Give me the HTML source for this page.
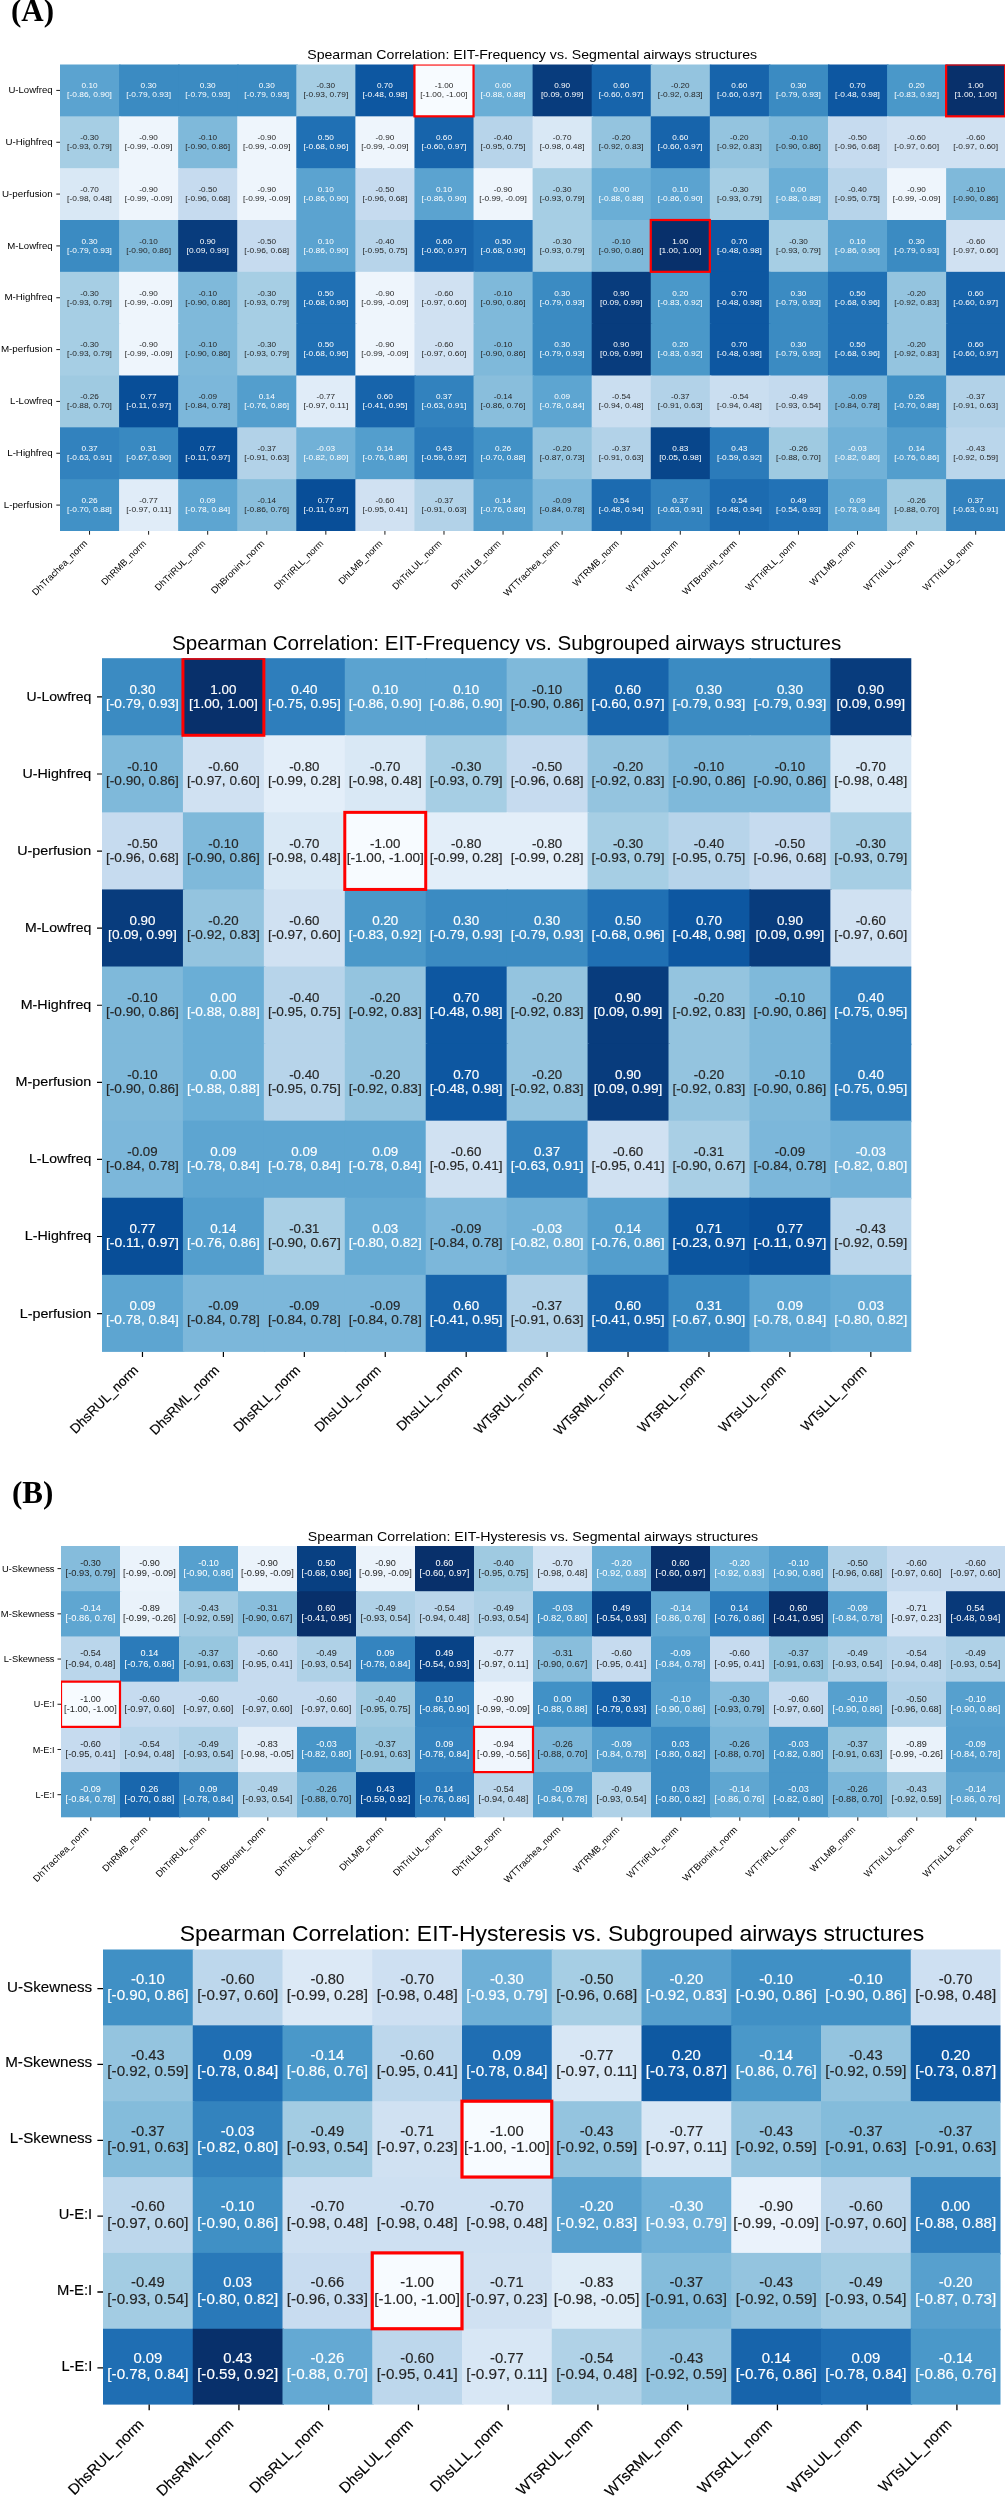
<!DOCTYPE html>
<html><head><meta charset="utf-8"><title>Spearman Correlation heatmaps</title><style>
html,body{margin:0;padding:0;background:#fff;}
svg{display:block;will-change:transform;}
text{font-family:"Liberation Sans",sans-serif;}
.w{fill:#fff;stroke:#fff}.d{fill:#262626;stroke:#262626}.k{fill:#000;stroke:#000}
.s{font-family:"Liberation Serif",serif;font-weight:bold}
</style></head><body>
<svg width="1005" height="2500" viewBox="0 0 1005 2500" stroke-width="0">
<rect width="1005" height="2500" fill="#fff"/>
<text class="s k" x="11.0" y="21.1" font-size="31">(A)</text>
<text class="s k" x="12.0" y="1502.8" font-size="31">(B)</text>
<g>
<rect x="60" y="64.5" width="60.58" height="53.33" fill="#5ba3d0"/>
<rect x="119.08" y="64.5" width="60.58" height="53.33" fill="#3b8bc2"/>
<rect x="178.15" y="64.5" width="60.58" height="53.33" fill="#3b8bc2"/>
<rect x="237.23" y="64.5" width="60.58" height="53.33" fill="#3b8bc2"/>
<rect x="296.3" y="64.5" width="60.58" height="53.33" fill="#a6cee4"/>
<rect x="355.38" y="64.5" width="60.58" height="53.33" fill="#0d57a1"/>
<rect x="414.45" y="64.5" width="60.58" height="53.33" fill="#f7fbff"/>
<rect x="473.53" y="64.5" width="60.58" height="53.33" fill="#6aaed6"/>
<rect x="532.6" y="64.5" width="60.58" height="53.33" fill="#083c7d"/>
<rect x="591.68" y="64.5" width="60.58" height="53.33" fill="#1764ab"/>
<rect x="650.75" y="64.5" width="60.58" height="53.33" fill="#94c4df"/>
<rect x="709.83" y="64.5" width="60.58" height="53.33" fill="#1764ab"/>
<rect x="768.9" y="64.5" width="60.58" height="53.33" fill="#3b8bc2"/>
<rect x="827.98" y="64.5" width="60.58" height="53.33" fill="#0d57a1"/>
<rect x="887.05" y="64.5" width="60.58" height="53.33" fill="#4a98c9"/>
<rect x="946.12" y="64.5" width="59.08" height="53.33" fill="#08306b"/>
<rect x="60" y="116.33" width="60.58" height="53.33" fill="#a6cee4"/>
<rect x="119.08" y="116.33" width="60.58" height="53.33" fill="#eef5fc"/>
<rect x="178.15" y="116.33" width="60.58" height="53.33" fill="#7fb9da"/>
<rect x="237.23" y="116.33" width="60.58" height="53.33" fill="#eef5fc"/>
<rect x="296.3" y="116.33" width="60.58" height="53.33" fill="#2070b4"/>
<rect x="355.38" y="116.33" width="60.58" height="53.33" fill="#eef5fc"/>
<rect x="414.45" y="116.33" width="60.58" height="53.33" fill="#1764ab"/>
<rect x="473.53" y="116.33" width="60.58" height="53.33" fill="#b7d4ea"/>
<rect x="532.6" y="116.33" width="60.58" height="53.33" fill="#d9e8f5"/>
<rect x="591.68" y="116.33" width="60.58" height="53.33" fill="#94c4df"/>
<rect x="650.75" y="116.33" width="60.58" height="53.33" fill="#1764ab"/>
<rect x="709.83" y="116.33" width="60.58" height="53.33" fill="#94c4df"/>
<rect x="768.9" y="116.33" width="60.58" height="53.33" fill="#7fb9da"/>
<rect x="827.98" y="116.33" width="60.58" height="53.33" fill="#c6dbef"/>
<rect x="887.05" y="116.33" width="60.58" height="53.33" fill="#d0e1f2"/>
<rect x="946.12" y="116.33" width="59.08" height="53.33" fill="#d0e1f2"/>
<rect x="60" y="168.17" width="60.58" height="53.33" fill="#d9e8f5"/>
<rect x="119.08" y="168.17" width="60.58" height="53.33" fill="#eef5fc"/>
<rect x="178.15" y="168.17" width="60.58" height="53.33" fill="#c6dbef"/>
<rect x="237.23" y="168.17" width="60.58" height="53.33" fill="#eef5fc"/>
<rect x="296.3" y="168.17" width="60.58" height="53.33" fill="#5ba3d0"/>
<rect x="355.38" y="168.17" width="60.58" height="53.33" fill="#c6dbef"/>
<rect x="414.45" y="168.17" width="60.58" height="53.33" fill="#5ba3d0"/>
<rect x="473.53" y="168.17" width="60.58" height="53.33" fill="#eef5fc"/>
<rect x="532.6" y="168.17" width="60.58" height="53.33" fill="#a6cee4"/>
<rect x="591.68" y="168.17" width="60.58" height="53.33" fill="#6aaed6"/>
<rect x="650.75" y="168.17" width="60.58" height="53.33" fill="#5ba3d0"/>
<rect x="709.83" y="168.17" width="60.58" height="53.33" fill="#a6cee4"/>
<rect x="768.9" y="168.17" width="60.58" height="53.33" fill="#6aaed6"/>
<rect x="827.98" y="168.17" width="60.58" height="53.33" fill="#b7d4ea"/>
<rect x="887.05" y="168.17" width="60.58" height="53.33" fill="#eef5fc"/>
<rect x="946.12" y="168.17" width="59.08" height="53.33" fill="#7fb9da"/>
<rect x="60" y="220" width="60.58" height="53.33" fill="#3b8bc2"/>
<rect x="119.08" y="220" width="60.58" height="53.33" fill="#7fb9da"/>
<rect x="178.15" y="220" width="60.58" height="53.33" fill="#083c7d"/>
<rect x="237.23" y="220" width="60.58" height="53.33" fill="#c6dbef"/>
<rect x="296.3" y="220" width="60.58" height="53.33" fill="#5ba3d0"/>
<rect x="355.38" y="220" width="60.58" height="53.33" fill="#b7d4ea"/>
<rect x="414.45" y="220" width="60.58" height="53.33" fill="#1764ab"/>
<rect x="473.53" y="220" width="60.58" height="53.33" fill="#2070b4"/>
<rect x="532.6" y="220" width="60.58" height="53.33" fill="#a6cee4"/>
<rect x="591.68" y="220" width="60.58" height="53.33" fill="#7fb9da"/>
<rect x="650.75" y="220" width="60.58" height="53.33" fill="#08306b"/>
<rect x="709.83" y="220" width="60.58" height="53.33" fill="#0d57a1"/>
<rect x="768.9" y="220" width="60.58" height="53.33" fill="#a6cee4"/>
<rect x="827.98" y="220" width="60.58" height="53.33" fill="#5ba3d0"/>
<rect x="887.05" y="220" width="60.58" height="53.33" fill="#3b8bc2"/>
<rect x="946.12" y="220" width="59.08" height="53.33" fill="#d0e1f2"/>
<rect x="60" y="271.83" width="60.58" height="53.33" fill="#a6cee4"/>
<rect x="119.08" y="271.83" width="60.58" height="53.33" fill="#eef5fc"/>
<rect x="178.15" y="271.83" width="60.58" height="53.33" fill="#7fb9da"/>
<rect x="237.23" y="271.83" width="60.58" height="53.33" fill="#a6cee4"/>
<rect x="296.3" y="271.83" width="60.58" height="53.33" fill="#2070b4"/>
<rect x="355.38" y="271.83" width="60.58" height="53.33" fill="#eef5fc"/>
<rect x="414.45" y="271.83" width="60.58" height="53.33" fill="#d0e1f2"/>
<rect x="473.53" y="271.83" width="60.58" height="53.33" fill="#7fb9da"/>
<rect x="532.6" y="271.83" width="60.58" height="53.33" fill="#3b8bc2"/>
<rect x="591.68" y="271.83" width="60.58" height="53.33" fill="#083c7d"/>
<rect x="650.75" y="271.83" width="60.58" height="53.33" fill="#4a98c9"/>
<rect x="709.83" y="271.83" width="60.58" height="53.33" fill="#0d57a1"/>
<rect x="768.9" y="271.83" width="60.58" height="53.33" fill="#3b8bc2"/>
<rect x="827.98" y="271.83" width="60.58" height="53.33" fill="#2070b4"/>
<rect x="887.05" y="271.83" width="60.58" height="53.33" fill="#94c4df"/>
<rect x="946.12" y="271.83" width="59.08" height="53.33" fill="#1764ab"/>
<rect x="60" y="323.67" width="60.58" height="53.33" fill="#a6cee4"/>
<rect x="119.08" y="323.67" width="60.58" height="53.33" fill="#eef5fc"/>
<rect x="178.15" y="323.67" width="60.58" height="53.33" fill="#7fb9da"/>
<rect x="237.23" y="323.67" width="60.58" height="53.33" fill="#a6cee4"/>
<rect x="296.3" y="323.67" width="60.58" height="53.33" fill="#2070b4"/>
<rect x="355.38" y="323.67" width="60.58" height="53.33" fill="#eef5fc"/>
<rect x="414.45" y="323.67" width="60.58" height="53.33" fill="#d0e1f2"/>
<rect x="473.53" y="323.67" width="60.58" height="53.33" fill="#7fb9da"/>
<rect x="532.6" y="323.67" width="60.58" height="53.33" fill="#3b8bc2"/>
<rect x="591.68" y="323.67" width="60.58" height="53.33" fill="#083c7d"/>
<rect x="650.75" y="323.67" width="60.58" height="53.33" fill="#4a98c9"/>
<rect x="709.83" y="323.67" width="60.58" height="53.33" fill="#0d57a1"/>
<rect x="768.9" y="323.67" width="60.58" height="53.33" fill="#3b8bc2"/>
<rect x="827.98" y="323.67" width="60.58" height="53.33" fill="#2070b4"/>
<rect x="887.05" y="323.67" width="60.58" height="53.33" fill="#94c4df"/>
<rect x="946.12" y="323.67" width="59.08" height="53.33" fill="#1764ab"/>
<rect x="60" y="375.5" width="60.58" height="53.33" fill="#9fcae1"/>
<rect x="119.08" y="375.5" width="60.58" height="53.33" fill="#084e98"/>
<rect x="178.15" y="375.5" width="60.58" height="53.33" fill="#7cb7da"/>
<rect x="237.23" y="375.5" width="60.58" height="53.33" fill="#539ecd"/>
<rect x="296.3" y="375.5" width="60.58" height="53.33" fill="#e0ecf8"/>
<rect x="355.38" y="375.5" width="60.58" height="53.33" fill="#1764ab"/>
<rect x="414.45" y="375.5" width="60.58" height="53.33" fill="#3282be"/>
<rect x="473.53" y="375.5" width="60.58" height="53.33" fill="#89bedc"/>
<rect x="532.6" y="375.5" width="60.58" height="53.33" fill="#5da5d1"/>
<rect x="591.68" y="375.5" width="60.58" height="53.33" fill="#cadef0"/>
<rect x="650.75" y="375.5" width="60.58" height="53.33" fill="#b2d2e8"/>
<rect x="709.83" y="375.5" width="60.58" height="53.33" fill="#cadef0"/>
<rect x="768.9" y="375.5" width="60.58" height="53.33" fill="#c4daee"/>
<rect x="827.98" y="375.5" width="60.58" height="53.33" fill="#7cb7da"/>
<rect x="887.05" y="375.5" width="60.58" height="53.33" fill="#4191c6"/>
<rect x="946.12" y="375.5" width="59.08" height="53.33" fill="#b2d2e8"/>
<rect x="60" y="427.33" width="60.58" height="53.33" fill="#3282be"/>
<rect x="119.08" y="427.33" width="60.58" height="53.33" fill="#3989c1"/>
<rect x="178.15" y="427.33" width="60.58" height="53.33" fill="#084e98"/>
<rect x="237.23" y="427.33" width="60.58" height="53.33" fill="#b2d2e8"/>
<rect x="296.3" y="427.33" width="60.58" height="53.33" fill="#71b1d7"/>
<rect x="355.38" y="427.33" width="60.58" height="53.33" fill="#539ecd"/>
<rect x="414.45" y="427.33" width="60.58" height="53.33" fill="#2b7bba"/>
<rect x="473.53" y="427.33" width="60.58" height="53.33" fill="#4191c6"/>
<rect x="532.6" y="427.33" width="60.58" height="53.33" fill="#94c4df"/>
<rect x="591.68" y="427.33" width="60.58" height="53.33" fill="#b2d2e8"/>
<rect x="650.75" y="427.33" width="60.58" height="53.33" fill="#08468b"/>
<rect x="709.83" y="427.33" width="60.58" height="53.33" fill="#2b7bba"/>
<rect x="768.9" y="427.33" width="60.58" height="53.33" fill="#9fcae1"/>
<rect x="827.98" y="427.33" width="60.58" height="53.33" fill="#71b1d7"/>
<rect x="887.05" y="427.33" width="60.58" height="53.33" fill="#539ecd"/>
<rect x="946.12" y="427.33" width="59.08" height="53.33" fill="#bad6eb"/>
<rect x="60" y="479.17" width="60.58" height="51.83" fill="#4191c6"/>
<rect x="119.08" y="479.17" width="60.58" height="51.83" fill="#e0ecf8"/>
<rect x="178.15" y="479.17" width="60.58" height="51.83" fill="#5da5d1"/>
<rect x="237.23" y="479.17" width="60.58" height="51.83" fill="#89bedc"/>
<rect x="296.3" y="479.17" width="60.58" height="51.83" fill="#084e98"/>
<rect x="355.38" y="479.17" width="60.58" height="51.83" fill="#d0e1f2"/>
<rect x="414.45" y="479.17" width="60.58" height="51.83" fill="#b2d2e8"/>
<rect x="473.53" y="479.17" width="60.58" height="51.83" fill="#539ecd"/>
<rect x="532.6" y="479.17" width="60.58" height="51.83" fill="#7cb7da"/>
<rect x="591.68" y="479.17" width="60.58" height="51.83" fill="#1c6bb0"/>
<rect x="650.75" y="479.17" width="60.58" height="51.83" fill="#3282be"/>
<rect x="709.83" y="479.17" width="60.58" height="51.83" fill="#1c6bb0"/>
<rect x="768.9" y="479.17" width="60.58" height="51.83" fill="#2272b6"/>
<rect x="827.98" y="479.17" width="60.58" height="51.83" fill="#5da5d1"/>
<rect x="887.05" y="479.17" width="60.58" height="51.83" fill="#9fcae1"/>
<rect x="946.12" y="479.17" width="59.08" height="51.83" fill="#3282be"/>
</g>
<g font-size="7.63" text-anchor="middle" stroke-width="0">
<text class="w" x="89.54" y="88.22" textLength="16.03" lengthAdjust="spacingAndGlyphs">0.10</text><text class="w" x="89.54" y="97.22" textLength="44.86" lengthAdjust="spacingAndGlyphs">[-0.86, 0.90]</text>
<text class="w" x="148.61" y="88.22" textLength="16.03" lengthAdjust="spacingAndGlyphs">0.30</text><text class="w" x="148.61" y="97.22" textLength="44.86" lengthAdjust="spacingAndGlyphs">[-0.79, 0.93]</text>
<text class="w" x="207.69" y="88.22" textLength="16.03" lengthAdjust="spacingAndGlyphs">0.30</text><text class="w" x="207.69" y="97.22" textLength="44.86" lengthAdjust="spacingAndGlyphs">[-0.79, 0.93]</text>
<text class="w" x="266.76" y="88.22" textLength="16.03" lengthAdjust="spacingAndGlyphs">0.30</text><text class="w" x="266.76" y="97.22" textLength="44.86" lengthAdjust="spacingAndGlyphs">[-0.79, 0.93]</text>
<text class="d" x="325.84" y="88.22" textLength="18.63" lengthAdjust="spacingAndGlyphs">-0.30</text><text class="d" x="325.84" y="97.22" textLength="44.86" lengthAdjust="spacingAndGlyphs">[-0.93, 0.79]</text>
<text class="w" x="384.91" y="88.22" textLength="16.03" lengthAdjust="spacingAndGlyphs">0.70</text><text class="w" x="384.91" y="97.22" textLength="44.86" lengthAdjust="spacingAndGlyphs">[-0.48, 0.98]</text>
<text class="d" x="443.99" y="88.22" textLength="18.63" lengthAdjust="spacingAndGlyphs">-1.00</text><text class="d" x="443.99" y="97.22" textLength="47.45" lengthAdjust="spacingAndGlyphs">[-1.00, -1.00]</text>
<text class="w" x="503.06" y="88.22" textLength="16.03" lengthAdjust="spacingAndGlyphs">0.00</text><text class="w" x="503.06" y="97.22" textLength="44.86" lengthAdjust="spacingAndGlyphs">[-0.88, 0.88]</text>
<text class="w" x="562.14" y="88.22" textLength="16.03" lengthAdjust="spacingAndGlyphs">0.90</text><text class="w" x="562.14" y="97.22" textLength="42.26" lengthAdjust="spacingAndGlyphs">[0.09, 0.99]</text>
<text class="w" x="621.21" y="88.22" textLength="16.03" lengthAdjust="spacingAndGlyphs">0.60</text><text class="w" x="621.21" y="97.22" textLength="44.86" lengthAdjust="spacingAndGlyphs">[-0.60, 0.97]</text>
<text class="d" x="680.29" y="88.22" textLength="18.63" lengthAdjust="spacingAndGlyphs">-0.20</text><text class="d" x="680.29" y="97.22" textLength="44.86" lengthAdjust="spacingAndGlyphs">[-0.92, 0.83]</text>
<text class="w" x="739.36" y="88.22" textLength="16.03" lengthAdjust="spacingAndGlyphs">0.60</text><text class="w" x="739.36" y="97.22" textLength="44.86" lengthAdjust="spacingAndGlyphs">[-0.60, 0.97]</text>
<text class="w" x="798.44" y="88.22" textLength="16.03" lengthAdjust="spacingAndGlyphs">0.30</text><text class="w" x="798.44" y="97.22" textLength="44.86" lengthAdjust="spacingAndGlyphs">[-0.79, 0.93]</text>
<text class="w" x="857.51" y="88.22" textLength="16.03" lengthAdjust="spacingAndGlyphs">0.70</text><text class="w" x="857.51" y="97.22" textLength="44.86" lengthAdjust="spacingAndGlyphs">[-0.48, 0.98]</text>
<text class="w" x="916.59" y="88.22" textLength="16.03" lengthAdjust="spacingAndGlyphs">0.20</text><text class="w" x="916.59" y="97.22" textLength="44.86" lengthAdjust="spacingAndGlyphs">[-0.83, 0.92]</text>
<text class="w" x="975.66" y="88.22" textLength="16.03" lengthAdjust="spacingAndGlyphs">1.00</text><text class="w" x="975.66" y="97.22" textLength="42.26" lengthAdjust="spacingAndGlyphs">[1.00, 1.00]</text>
<text class="d" x="89.54" y="140.05" textLength="18.63" lengthAdjust="spacingAndGlyphs">-0.30</text><text class="d" x="89.54" y="149.05" textLength="44.86" lengthAdjust="spacingAndGlyphs">[-0.93, 0.79]</text>
<text class="d" x="148.61" y="140.05" textLength="18.63" lengthAdjust="spacingAndGlyphs">-0.90</text><text class="d" x="148.61" y="149.05" textLength="47.45" lengthAdjust="spacingAndGlyphs">[-0.99, -0.09]</text>
<text class="d" x="207.69" y="140.05" textLength="18.63" lengthAdjust="spacingAndGlyphs">-0.10</text><text class="d" x="207.69" y="149.05" textLength="44.86" lengthAdjust="spacingAndGlyphs">[-0.90, 0.86]</text>
<text class="d" x="266.76" y="140.05" textLength="18.63" lengthAdjust="spacingAndGlyphs">-0.90</text><text class="d" x="266.76" y="149.05" textLength="47.45" lengthAdjust="spacingAndGlyphs">[-0.99, -0.09]</text>
<text class="w" x="325.84" y="140.05" textLength="16.03" lengthAdjust="spacingAndGlyphs">0.50</text><text class="w" x="325.84" y="149.05" textLength="44.86" lengthAdjust="spacingAndGlyphs">[-0.68, 0.96]</text>
<text class="d" x="384.91" y="140.05" textLength="18.63" lengthAdjust="spacingAndGlyphs">-0.90</text><text class="d" x="384.91" y="149.05" textLength="47.45" lengthAdjust="spacingAndGlyphs">[-0.99, -0.09]</text>
<text class="w" x="443.99" y="140.05" textLength="16.03" lengthAdjust="spacingAndGlyphs">0.60</text><text class="w" x="443.99" y="149.05" textLength="44.86" lengthAdjust="spacingAndGlyphs">[-0.60, 0.97]</text>
<text class="d" x="503.06" y="140.05" textLength="18.63" lengthAdjust="spacingAndGlyphs">-0.40</text><text class="d" x="503.06" y="149.05" textLength="44.86" lengthAdjust="spacingAndGlyphs">[-0.95, 0.75]</text>
<text class="d" x="562.14" y="140.05" textLength="18.63" lengthAdjust="spacingAndGlyphs">-0.70</text><text class="d" x="562.14" y="149.05" textLength="44.86" lengthAdjust="spacingAndGlyphs">[-0.98, 0.48]</text>
<text class="d" x="621.21" y="140.05" textLength="18.63" lengthAdjust="spacingAndGlyphs">-0.20</text><text class="d" x="621.21" y="149.05" textLength="44.86" lengthAdjust="spacingAndGlyphs">[-0.92, 0.83]</text>
<text class="w" x="680.29" y="140.05" textLength="16.03" lengthAdjust="spacingAndGlyphs">0.60</text><text class="w" x="680.29" y="149.05" textLength="44.86" lengthAdjust="spacingAndGlyphs">[-0.60, 0.97]</text>
<text class="d" x="739.36" y="140.05" textLength="18.63" lengthAdjust="spacingAndGlyphs">-0.20</text><text class="d" x="739.36" y="149.05" textLength="44.86" lengthAdjust="spacingAndGlyphs">[-0.92, 0.83]</text>
<text class="d" x="798.44" y="140.05" textLength="18.63" lengthAdjust="spacingAndGlyphs">-0.10</text><text class="d" x="798.44" y="149.05" textLength="44.86" lengthAdjust="spacingAndGlyphs">[-0.90, 0.86]</text>
<text class="d" x="857.51" y="140.05" textLength="18.63" lengthAdjust="spacingAndGlyphs">-0.50</text><text class="d" x="857.51" y="149.05" textLength="44.86" lengthAdjust="spacingAndGlyphs">[-0.96, 0.68]</text>
<text class="d" x="916.59" y="140.05" textLength="18.63" lengthAdjust="spacingAndGlyphs">-0.60</text><text class="d" x="916.59" y="149.05" textLength="44.86" lengthAdjust="spacingAndGlyphs">[-0.97, 0.60]</text>
<text class="d" x="975.66" y="140.05" textLength="18.63" lengthAdjust="spacingAndGlyphs">-0.60</text><text class="d" x="975.66" y="149.05" textLength="44.86" lengthAdjust="spacingAndGlyphs">[-0.97, 0.60]</text>
<text class="d" x="89.54" y="191.88" textLength="18.63" lengthAdjust="spacingAndGlyphs">-0.70</text><text class="d" x="89.54" y="200.88" textLength="44.86" lengthAdjust="spacingAndGlyphs">[-0.98, 0.48]</text>
<text class="d" x="148.61" y="191.88" textLength="18.63" lengthAdjust="spacingAndGlyphs">-0.90</text><text class="d" x="148.61" y="200.88" textLength="47.45" lengthAdjust="spacingAndGlyphs">[-0.99, -0.09]</text>
<text class="d" x="207.69" y="191.88" textLength="18.63" lengthAdjust="spacingAndGlyphs">-0.50</text><text class="d" x="207.69" y="200.88" textLength="44.86" lengthAdjust="spacingAndGlyphs">[-0.96, 0.68]</text>
<text class="d" x="266.76" y="191.88" textLength="18.63" lengthAdjust="spacingAndGlyphs">-0.90</text><text class="d" x="266.76" y="200.88" textLength="47.45" lengthAdjust="spacingAndGlyphs">[-0.99, -0.09]</text>
<text class="w" x="325.84" y="191.88" textLength="16.03" lengthAdjust="spacingAndGlyphs">0.10</text><text class="w" x="325.84" y="200.88" textLength="44.86" lengthAdjust="spacingAndGlyphs">[-0.86, 0.90]</text>
<text class="d" x="384.91" y="191.88" textLength="18.63" lengthAdjust="spacingAndGlyphs">-0.50</text><text class="d" x="384.91" y="200.88" textLength="44.86" lengthAdjust="spacingAndGlyphs">[-0.96, 0.68]</text>
<text class="w" x="443.99" y="191.88" textLength="16.03" lengthAdjust="spacingAndGlyphs">0.10</text><text class="w" x="443.99" y="200.88" textLength="44.86" lengthAdjust="spacingAndGlyphs">[-0.86, 0.90]</text>
<text class="d" x="503.06" y="191.88" textLength="18.63" lengthAdjust="spacingAndGlyphs">-0.90</text><text class="d" x="503.06" y="200.88" textLength="47.45" lengthAdjust="spacingAndGlyphs">[-0.99, -0.09]</text>
<text class="d" x="562.14" y="191.88" textLength="18.63" lengthAdjust="spacingAndGlyphs">-0.30</text><text class="d" x="562.14" y="200.88" textLength="44.86" lengthAdjust="spacingAndGlyphs">[-0.93, 0.79]</text>
<text class="w" x="621.21" y="191.88" textLength="16.03" lengthAdjust="spacingAndGlyphs">0.00</text><text class="w" x="621.21" y="200.88" textLength="44.86" lengthAdjust="spacingAndGlyphs">[-0.88, 0.88]</text>
<text class="w" x="680.29" y="191.88" textLength="16.03" lengthAdjust="spacingAndGlyphs">0.10</text><text class="w" x="680.29" y="200.88" textLength="44.86" lengthAdjust="spacingAndGlyphs">[-0.86, 0.90]</text>
<text class="d" x="739.36" y="191.88" textLength="18.63" lengthAdjust="spacingAndGlyphs">-0.30</text><text class="d" x="739.36" y="200.88" textLength="44.86" lengthAdjust="spacingAndGlyphs">[-0.93, 0.79]</text>
<text class="w" x="798.44" y="191.88" textLength="16.03" lengthAdjust="spacingAndGlyphs">0.00</text><text class="w" x="798.44" y="200.88" textLength="44.86" lengthAdjust="spacingAndGlyphs">[-0.88, 0.88]</text>
<text class="d" x="857.51" y="191.88" textLength="18.63" lengthAdjust="spacingAndGlyphs">-0.40</text><text class="d" x="857.51" y="200.88" textLength="44.86" lengthAdjust="spacingAndGlyphs">[-0.95, 0.75]</text>
<text class="d" x="916.59" y="191.88" textLength="18.63" lengthAdjust="spacingAndGlyphs">-0.90</text><text class="d" x="916.59" y="200.88" textLength="47.45" lengthAdjust="spacingAndGlyphs">[-0.99, -0.09]</text>
<text class="d" x="975.66" y="191.88" textLength="18.63" lengthAdjust="spacingAndGlyphs">-0.10</text><text class="d" x="975.66" y="200.88" textLength="44.86" lengthAdjust="spacingAndGlyphs">[-0.90, 0.86]</text>
<text class="w" x="89.54" y="243.72" textLength="16.03" lengthAdjust="spacingAndGlyphs">0.30</text><text class="w" x="89.54" y="252.72" textLength="44.86" lengthAdjust="spacingAndGlyphs">[-0.79, 0.93]</text>
<text class="d" x="148.61" y="243.72" textLength="18.63" lengthAdjust="spacingAndGlyphs">-0.10</text><text class="d" x="148.61" y="252.72" textLength="44.86" lengthAdjust="spacingAndGlyphs">[-0.90, 0.86]</text>
<text class="w" x="207.69" y="243.72" textLength="16.03" lengthAdjust="spacingAndGlyphs">0.90</text><text class="w" x="207.69" y="252.72" textLength="42.26" lengthAdjust="spacingAndGlyphs">[0.09, 0.99]</text>
<text class="d" x="266.76" y="243.72" textLength="18.63" lengthAdjust="spacingAndGlyphs">-0.50</text><text class="d" x="266.76" y="252.72" textLength="44.86" lengthAdjust="spacingAndGlyphs">[-0.96, 0.68]</text>
<text class="w" x="325.84" y="243.72" textLength="16.03" lengthAdjust="spacingAndGlyphs">0.10</text><text class="w" x="325.84" y="252.72" textLength="44.86" lengthAdjust="spacingAndGlyphs">[-0.86, 0.90]</text>
<text class="d" x="384.91" y="243.72" textLength="18.63" lengthAdjust="spacingAndGlyphs">-0.40</text><text class="d" x="384.91" y="252.72" textLength="44.86" lengthAdjust="spacingAndGlyphs">[-0.95, 0.75]</text>
<text class="w" x="443.99" y="243.72" textLength="16.03" lengthAdjust="spacingAndGlyphs">0.60</text><text class="w" x="443.99" y="252.72" textLength="44.86" lengthAdjust="spacingAndGlyphs">[-0.60, 0.97]</text>
<text class="w" x="503.06" y="243.72" textLength="16.03" lengthAdjust="spacingAndGlyphs">0.50</text><text class="w" x="503.06" y="252.72" textLength="44.86" lengthAdjust="spacingAndGlyphs">[-0.68, 0.96]</text>
<text class="d" x="562.14" y="243.72" textLength="18.63" lengthAdjust="spacingAndGlyphs">-0.30</text><text class="d" x="562.14" y="252.72" textLength="44.86" lengthAdjust="spacingAndGlyphs">[-0.93, 0.79]</text>
<text class="d" x="621.21" y="243.72" textLength="18.63" lengthAdjust="spacingAndGlyphs">-0.10</text><text class="d" x="621.21" y="252.72" textLength="44.86" lengthAdjust="spacingAndGlyphs">[-0.90, 0.86]</text>
<text class="w" x="680.29" y="243.72" textLength="16.03" lengthAdjust="spacingAndGlyphs">1.00</text><text class="w" x="680.29" y="252.72" textLength="42.26" lengthAdjust="spacingAndGlyphs">[1.00, 1.00]</text>
<text class="w" x="739.36" y="243.72" textLength="16.03" lengthAdjust="spacingAndGlyphs">0.70</text><text class="w" x="739.36" y="252.72" textLength="44.86" lengthAdjust="spacingAndGlyphs">[-0.48, 0.98]</text>
<text class="d" x="798.44" y="243.72" textLength="18.63" lengthAdjust="spacingAndGlyphs">-0.30</text><text class="d" x="798.44" y="252.72" textLength="44.86" lengthAdjust="spacingAndGlyphs">[-0.93, 0.79]</text>
<text class="w" x="857.51" y="243.72" textLength="16.03" lengthAdjust="spacingAndGlyphs">0.10</text><text class="w" x="857.51" y="252.72" textLength="44.86" lengthAdjust="spacingAndGlyphs">[-0.86, 0.90]</text>
<text class="w" x="916.59" y="243.72" textLength="16.03" lengthAdjust="spacingAndGlyphs">0.30</text><text class="w" x="916.59" y="252.72" textLength="44.86" lengthAdjust="spacingAndGlyphs">[-0.79, 0.93]</text>
<text class="d" x="975.66" y="243.72" textLength="18.63" lengthAdjust="spacingAndGlyphs">-0.60</text><text class="d" x="975.66" y="252.72" textLength="44.86" lengthAdjust="spacingAndGlyphs">[-0.97, 0.60]</text>
<text class="d" x="89.54" y="295.55" textLength="18.63" lengthAdjust="spacingAndGlyphs">-0.30</text><text class="d" x="89.54" y="304.55" textLength="44.86" lengthAdjust="spacingAndGlyphs">[-0.93, 0.79]</text>
<text class="d" x="148.61" y="295.55" textLength="18.63" lengthAdjust="spacingAndGlyphs">-0.90</text><text class="d" x="148.61" y="304.55" textLength="47.45" lengthAdjust="spacingAndGlyphs">[-0.99, -0.09]</text>
<text class="d" x="207.69" y="295.55" textLength="18.63" lengthAdjust="spacingAndGlyphs">-0.10</text><text class="d" x="207.69" y="304.55" textLength="44.86" lengthAdjust="spacingAndGlyphs">[-0.90, 0.86]</text>
<text class="d" x="266.76" y="295.55" textLength="18.63" lengthAdjust="spacingAndGlyphs">-0.30</text><text class="d" x="266.76" y="304.55" textLength="44.86" lengthAdjust="spacingAndGlyphs">[-0.93, 0.79]</text>
<text class="w" x="325.84" y="295.55" textLength="16.03" lengthAdjust="spacingAndGlyphs">0.50</text><text class="w" x="325.84" y="304.55" textLength="44.86" lengthAdjust="spacingAndGlyphs">[-0.68, 0.96]</text>
<text class="d" x="384.91" y="295.55" textLength="18.63" lengthAdjust="spacingAndGlyphs">-0.90</text><text class="d" x="384.91" y="304.55" textLength="47.45" lengthAdjust="spacingAndGlyphs">[-0.99, -0.09]</text>
<text class="d" x="443.99" y="295.55" textLength="18.63" lengthAdjust="spacingAndGlyphs">-0.60</text><text class="d" x="443.99" y="304.55" textLength="44.86" lengthAdjust="spacingAndGlyphs">[-0.97, 0.60]</text>
<text class="d" x="503.06" y="295.55" textLength="18.63" lengthAdjust="spacingAndGlyphs">-0.10</text><text class="d" x="503.06" y="304.55" textLength="44.86" lengthAdjust="spacingAndGlyphs">[-0.90, 0.86]</text>
<text class="w" x="562.14" y="295.55" textLength="16.03" lengthAdjust="spacingAndGlyphs">0.30</text><text class="w" x="562.14" y="304.55" textLength="44.86" lengthAdjust="spacingAndGlyphs">[-0.79, 0.93]</text>
<text class="w" x="621.21" y="295.55" textLength="16.03" lengthAdjust="spacingAndGlyphs">0.90</text><text class="w" x="621.21" y="304.55" textLength="42.26" lengthAdjust="spacingAndGlyphs">[0.09, 0.99]</text>
<text class="w" x="680.29" y="295.55" textLength="16.03" lengthAdjust="spacingAndGlyphs">0.20</text><text class="w" x="680.29" y="304.55" textLength="44.86" lengthAdjust="spacingAndGlyphs">[-0.83, 0.92]</text>
<text class="w" x="739.36" y="295.55" textLength="16.03" lengthAdjust="spacingAndGlyphs">0.70</text><text class="w" x="739.36" y="304.55" textLength="44.86" lengthAdjust="spacingAndGlyphs">[-0.48, 0.98]</text>
<text class="w" x="798.44" y="295.55" textLength="16.03" lengthAdjust="spacingAndGlyphs">0.30</text><text class="w" x="798.44" y="304.55" textLength="44.86" lengthAdjust="spacingAndGlyphs">[-0.79, 0.93]</text>
<text class="w" x="857.51" y="295.55" textLength="16.03" lengthAdjust="spacingAndGlyphs">0.50</text><text class="w" x="857.51" y="304.55" textLength="44.86" lengthAdjust="spacingAndGlyphs">[-0.68, 0.96]</text>
<text class="d" x="916.59" y="295.55" textLength="18.63" lengthAdjust="spacingAndGlyphs">-0.20</text><text class="d" x="916.59" y="304.55" textLength="44.86" lengthAdjust="spacingAndGlyphs">[-0.92, 0.83]</text>
<text class="w" x="975.66" y="295.55" textLength="16.03" lengthAdjust="spacingAndGlyphs">0.60</text><text class="w" x="975.66" y="304.55" textLength="44.86" lengthAdjust="spacingAndGlyphs">[-0.60, 0.97]</text>
<text class="d" x="89.54" y="347.38" textLength="18.63" lengthAdjust="spacingAndGlyphs">-0.30</text><text class="d" x="89.54" y="356.38" textLength="44.86" lengthAdjust="spacingAndGlyphs">[-0.93, 0.79]</text>
<text class="d" x="148.61" y="347.38" textLength="18.63" lengthAdjust="spacingAndGlyphs">-0.90</text><text class="d" x="148.61" y="356.38" textLength="47.45" lengthAdjust="spacingAndGlyphs">[-0.99, -0.09]</text>
<text class="d" x="207.69" y="347.38" textLength="18.63" lengthAdjust="spacingAndGlyphs">-0.10</text><text class="d" x="207.69" y="356.38" textLength="44.86" lengthAdjust="spacingAndGlyphs">[-0.90, 0.86]</text>
<text class="d" x="266.76" y="347.38" textLength="18.63" lengthAdjust="spacingAndGlyphs">-0.30</text><text class="d" x="266.76" y="356.38" textLength="44.86" lengthAdjust="spacingAndGlyphs">[-0.93, 0.79]</text>
<text class="w" x="325.84" y="347.38" textLength="16.03" lengthAdjust="spacingAndGlyphs">0.50</text><text class="w" x="325.84" y="356.38" textLength="44.86" lengthAdjust="spacingAndGlyphs">[-0.68, 0.96]</text>
<text class="d" x="384.91" y="347.38" textLength="18.63" lengthAdjust="spacingAndGlyphs">-0.90</text><text class="d" x="384.91" y="356.38" textLength="47.45" lengthAdjust="spacingAndGlyphs">[-0.99, -0.09]</text>
<text class="d" x="443.99" y="347.38" textLength="18.63" lengthAdjust="spacingAndGlyphs">-0.60</text><text class="d" x="443.99" y="356.38" textLength="44.86" lengthAdjust="spacingAndGlyphs">[-0.97, 0.60]</text>
<text class="d" x="503.06" y="347.38" textLength="18.63" lengthAdjust="spacingAndGlyphs">-0.10</text><text class="d" x="503.06" y="356.38" textLength="44.86" lengthAdjust="spacingAndGlyphs">[-0.90, 0.86]</text>
<text class="w" x="562.14" y="347.38" textLength="16.03" lengthAdjust="spacingAndGlyphs">0.30</text><text class="w" x="562.14" y="356.38" textLength="44.86" lengthAdjust="spacingAndGlyphs">[-0.79, 0.93]</text>
<text class="w" x="621.21" y="347.38" textLength="16.03" lengthAdjust="spacingAndGlyphs">0.90</text><text class="w" x="621.21" y="356.38" textLength="42.26" lengthAdjust="spacingAndGlyphs">[0.09, 0.99]</text>
<text class="w" x="680.29" y="347.38" textLength="16.03" lengthAdjust="spacingAndGlyphs">0.20</text><text class="w" x="680.29" y="356.38" textLength="44.86" lengthAdjust="spacingAndGlyphs">[-0.83, 0.92]</text>
<text class="w" x="739.36" y="347.38" textLength="16.03" lengthAdjust="spacingAndGlyphs">0.70</text><text class="w" x="739.36" y="356.38" textLength="44.86" lengthAdjust="spacingAndGlyphs">[-0.48, 0.98]</text>
<text class="w" x="798.44" y="347.38" textLength="16.03" lengthAdjust="spacingAndGlyphs">0.30</text><text class="w" x="798.44" y="356.38" textLength="44.86" lengthAdjust="spacingAndGlyphs">[-0.79, 0.93]</text>
<text class="w" x="857.51" y="347.38" textLength="16.03" lengthAdjust="spacingAndGlyphs">0.50</text><text class="w" x="857.51" y="356.38" textLength="44.86" lengthAdjust="spacingAndGlyphs">[-0.68, 0.96]</text>
<text class="d" x="916.59" y="347.38" textLength="18.63" lengthAdjust="spacingAndGlyphs">-0.20</text><text class="d" x="916.59" y="356.38" textLength="44.86" lengthAdjust="spacingAndGlyphs">[-0.92, 0.83]</text>
<text class="w" x="975.66" y="347.38" textLength="16.03" lengthAdjust="spacingAndGlyphs">0.60</text><text class="w" x="975.66" y="356.38" textLength="44.86" lengthAdjust="spacingAndGlyphs">[-0.60, 0.97]</text>
<text class="d" x="89.54" y="399.22" textLength="18.63" lengthAdjust="spacingAndGlyphs">-0.26</text><text class="d" x="89.54" y="408.22" textLength="44.86" lengthAdjust="spacingAndGlyphs">[-0.88, 0.70]</text>
<text class="w" x="148.61" y="399.22" textLength="16.03" lengthAdjust="spacingAndGlyphs">0.77</text><text class="w" x="148.61" y="408.22" textLength="44.86" lengthAdjust="spacingAndGlyphs">[-0.11, 0.97]</text>
<text class="d" x="207.69" y="399.22" textLength="18.63" lengthAdjust="spacingAndGlyphs">-0.09</text><text class="d" x="207.69" y="408.22" textLength="44.86" lengthAdjust="spacingAndGlyphs">[-0.84, 0.78]</text>
<text class="w" x="266.76" y="399.22" textLength="16.03" lengthAdjust="spacingAndGlyphs">0.14</text><text class="w" x="266.76" y="408.22" textLength="44.86" lengthAdjust="spacingAndGlyphs">[-0.76, 0.86]</text>
<text class="d" x="325.84" y="399.22" textLength="18.63" lengthAdjust="spacingAndGlyphs">-0.77</text><text class="d" x="325.84" y="408.22" textLength="44.86" lengthAdjust="spacingAndGlyphs">[-0.97, 0.11]</text>
<text class="w" x="384.91" y="399.22" textLength="16.03" lengthAdjust="spacingAndGlyphs">0.60</text><text class="w" x="384.91" y="408.22" textLength="44.86" lengthAdjust="spacingAndGlyphs">[-0.41, 0.95]</text>
<text class="w" x="443.99" y="399.22" textLength="16.03" lengthAdjust="spacingAndGlyphs">0.37</text><text class="w" x="443.99" y="408.22" textLength="44.86" lengthAdjust="spacingAndGlyphs">[-0.63, 0.91]</text>
<text class="d" x="503.06" y="399.22" textLength="18.63" lengthAdjust="spacingAndGlyphs">-0.14</text><text class="d" x="503.06" y="408.22" textLength="44.86" lengthAdjust="spacingAndGlyphs">[-0.86, 0.76]</text>
<text class="w" x="562.14" y="399.22" textLength="16.03" lengthAdjust="spacingAndGlyphs">0.09</text><text class="w" x="562.14" y="408.22" textLength="44.86" lengthAdjust="spacingAndGlyphs">[-0.78, 0.84]</text>
<text class="d" x="621.21" y="399.22" textLength="18.63" lengthAdjust="spacingAndGlyphs">-0.54</text><text class="d" x="621.21" y="408.22" textLength="44.86" lengthAdjust="spacingAndGlyphs">[-0.94, 0.48]</text>
<text class="d" x="680.29" y="399.22" textLength="18.63" lengthAdjust="spacingAndGlyphs">-0.37</text><text class="d" x="680.29" y="408.22" textLength="44.86" lengthAdjust="spacingAndGlyphs">[-0.91, 0.63]</text>
<text class="d" x="739.36" y="399.22" textLength="18.63" lengthAdjust="spacingAndGlyphs">-0.54</text><text class="d" x="739.36" y="408.22" textLength="44.86" lengthAdjust="spacingAndGlyphs">[-0.94, 0.48]</text>
<text class="d" x="798.44" y="399.22" textLength="18.63" lengthAdjust="spacingAndGlyphs">-0.49</text><text class="d" x="798.44" y="408.22" textLength="44.86" lengthAdjust="spacingAndGlyphs">[-0.93, 0.54]</text>
<text class="d" x="857.51" y="399.22" textLength="18.63" lengthAdjust="spacingAndGlyphs">-0.09</text><text class="d" x="857.51" y="408.22" textLength="44.86" lengthAdjust="spacingAndGlyphs">[-0.84, 0.78]</text>
<text class="w" x="916.59" y="399.22" textLength="16.03" lengthAdjust="spacingAndGlyphs">0.26</text><text class="w" x="916.59" y="408.22" textLength="44.86" lengthAdjust="spacingAndGlyphs">[-0.70, 0.88]</text>
<text class="d" x="975.66" y="399.22" textLength="18.63" lengthAdjust="spacingAndGlyphs">-0.37</text><text class="d" x="975.66" y="408.22" textLength="44.86" lengthAdjust="spacingAndGlyphs">[-0.91, 0.63]</text>
<text class="w" x="89.54" y="451.05" textLength="16.03" lengthAdjust="spacingAndGlyphs">0.37</text><text class="w" x="89.54" y="460.05" textLength="44.86" lengthAdjust="spacingAndGlyphs">[-0.63, 0.91]</text>
<text class="w" x="148.61" y="451.05" textLength="16.03" lengthAdjust="spacingAndGlyphs">0.31</text><text class="w" x="148.61" y="460.05" textLength="44.86" lengthAdjust="spacingAndGlyphs">[-0.67, 0.90]</text>
<text class="w" x="207.69" y="451.05" textLength="16.03" lengthAdjust="spacingAndGlyphs">0.77</text><text class="w" x="207.69" y="460.05" textLength="44.86" lengthAdjust="spacingAndGlyphs">[-0.11, 0.97]</text>
<text class="d" x="266.76" y="451.05" textLength="18.63" lengthAdjust="spacingAndGlyphs">-0.37</text><text class="d" x="266.76" y="460.05" textLength="44.86" lengthAdjust="spacingAndGlyphs">[-0.91, 0.63]</text>
<text class="w" x="325.84" y="451.05" textLength="18.63" lengthAdjust="spacingAndGlyphs">-0.03</text><text class="w" x="325.84" y="460.05" textLength="44.86" lengthAdjust="spacingAndGlyphs">[-0.82, 0.80]</text>
<text class="w" x="384.91" y="451.05" textLength="16.03" lengthAdjust="spacingAndGlyphs">0.14</text><text class="w" x="384.91" y="460.05" textLength="44.86" lengthAdjust="spacingAndGlyphs">[-0.76, 0.86]</text>
<text class="w" x="443.99" y="451.05" textLength="16.03" lengthAdjust="spacingAndGlyphs">0.43</text><text class="w" x="443.99" y="460.05" textLength="44.86" lengthAdjust="spacingAndGlyphs">[-0.59, 0.92]</text>
<text class="w" x="503.06" y="451.05" textLength="16.03" lengthAdjust="spacingAndGlyphs">0.26</text><text class="w" x="503.06" y="460.05" textLength="44.86" lengthAdjust="spacingAndGlyphs">[-0.70, 0.88]</text>
<text class="d" x="562.14" y="451.05" textLength="18.63" lengthAdjust="spacingAndGlyphs">-0.20</text><text class="d" x="562.14" y="460.05" textLength="44.86" lengthAdjust="spacingAndGlyphs">[-0.87, 0.73]</text>
<text class="d" x="621.21" y="451.05" textLength="18.63" lengthAdjust="spacingAndGlyphs">-0.37</text><text class="d" x="621.21" y="460.05" textLength="44.86" lengthAdjust="spacingAndGlyphs">[-0.91, 0.63]</text>
<text class="w" x="680.29" y="451.05" textLength="16.03" lengthAdjust="spacingAndGlyphs">0.83</text><text class="w" x="680.29" y="460.05" textLength="42.26" lengthAdjust="spacingAndGlyphs">[0.05, 0.98]</text>
<text class="w" x="739.36" y="451.05" textLength="16.03" lengthAdjust="spacingAndGlyphs">0.43</text><text class="w" x="739.36" y="460.05" textLength="44.86" lengthAdjust="spacingAndGlyphs">[-0.59, 0.92]</text>
<text class="d" x="798.44" y="451.05" textLength="18.63" lengthAdjust="spacingAndGlyphs">-0.26</text><text class="d" x="798.44" y="460.05" textLength="44.86" lengthAdjust="spacingAndGlyphs">[-0.88, 0.70]</text>
<text class="w" x="857.51" y="451.05" textLength="18.63" lengthAdjust="spacingAndGlyphs">-0.03</text><text class="w" x="857.51" y="460.05" textLength="44.86" lengthAdjust="spacingAndGlyphs">[-0.82, 0.80]</text>
<text class="w" x="916.59" y="451.05" textLength="16.03" lengthAdjust="spacingAndGlyphs">0.14</text><text class="w" x="916.59" y="460.05" textLength="44.86" lengthAdjust="spacingAndGlyphs">[-0.76, 0.86]</text>
<text class="d" x="975.66" y="451.05" textLength="18.63" lengthAdjust="spacingAndGlyphs">-0.43</text><text class="d" x="975.66" y="460.05" textLength="44.86" lengthAdjust="spacingAndGlyphs">[-0.92, 0.59]</text>
<text class="w" x="89.54" y="502.88" textLength="16.03" lengthAdjust="spacingAndGlyphs">0.26</text><text class="w" x="89.54" y="511.88" textLength="44.86" lengthAdjust="spacingAndGlyphs">[-0.70, 0.88]</text>
<text class="d" x="148.61" y="502.88" textLength="18.63" lengthAdjust="spacingAndGlyphs">-0.77</text><text class="d" x="148.61" y="511.88" textLength="44.86" lengthAdjust="spacingAndGlyphs">[-0.97, 0.11]</text>
<text class="w" x="207.69" y="502.88" textLength="16.03" lengthAdjust="spacingAndGlyphs">0.09</text><text class="w" x="207.69" y="511.88" textLength="44.86" lengthAdjust="spacingAndGlyphs">[-0.78, 0.84]</text>
<text class="d" x="266.76" y="502.88" textLength="18.63" lengthAdjust="spacingAndGlyphs">-0.14</text><text class="d" x="266.76" y="511.88" textLength="44.86" lengthAdjust="spacingAndGlyphs">[-0.86, 0.76]</text>
<text class="w" x="325.84" y="502.88" textLength="16.03" lengthAdjust="spacingAndGlyphs">0.77</text><text class="w" x="325.84" y="511.88" textLength="44.86" lengthAdjust="spacingAndGlyphs">[-0.11, 0.97]</text>
<text class="d" x="384.91" y="502.88" textLength="18.63" lengthAdjust="spacingAndGlyphs">-0.60</text><text class="d" x="384.91" y="511.88" textLength="44.86" lengthAdjust="spacingAndGlyphs">[-0.95, 0.41]</text>
<text class="d" x="443.99" y="502.88" textLength="18.63" lengthAdjust="spacingAndGlyphs">-0.37</text><text class="d" x="443.99" y="511.88" textLength="44.86" lengthAdjust="spacingAndGlyphs">[-0.91, 0.63]</text>
<text class="w" x="503.06" y="502.88" textLength="16.03" lengthAdjust="spacingAndGlyphs">0.14</text><text class="w" x="503.06" y="511.88" textLength="44.86" lengthAdjust="spacingAndGlyphs">[-0.76, 0.86]</text>
<text class="d" x="562.14" y="502.88" textLength="18.63" lengthAdjust="spacingAndGlyphs">-0.09</text><text class="d" x="562.14" y="511.88" textLength="44.86" lengthAdjust="spacingAndGlyphs">[-0.84, 0.78]</text>
<text class="w" x="621.21" y="502.88" textLength="16.03" lengthAdjust="spacingAndGlyphs">0.54</text><text class="w" x="621.21" y="511.88" textLength="44.86" lengthAdjust="spacingAndGlyphs">[-0.48, 0.94]</text>
<text class="w" x="680.29" y="502.88" textLength="16.03" lengthAdjust="spacingAndGlyphs">0.37</text><text class="w" x="680.29" y="511.88" textLength="44.86" lengthAdjust="spacingAndGlyphs">[-0.63, 0.91]</text>
<text class="w" x="739.36" y="502.88" textLength="16.03" lengthAdjust="spacingAndGlyphs">0.54</text><text class="w" x="739.36" y="511.88" textLength="44.86" lengthAdjust="spacingAndGlyphs">[-0.48, 0.94]</text>
<text class="w" x="798.44" y="502.88" textLength="16.03" lengthAdjust="spacingAndGlyphs">0.49</text><text class="w" x="798.44" y="511.88" textLength="44.86" lengthAdjust="spacingAndGlyphs">[-0.54, 0.93]</text>
<text class="w" x="857.51" y="502.88" textLength="16.03" lengthAdjust="spacingAndGlyphs">0.09</text><text class="w" x="857.51" y="511.88" textLength="44.86" lengthAdjust="spacingAndGlyphs">[-0.78, 0.84]</text>
<text class="d" x="916.59" y="502.88" textLength="18.63" lengthAdjust="spacingAndGlyphs">-0.26</text><text class="d" x="916.59" y="511.88" textLength="44.86" lengthAdjust="spacingAndGlyphs">[-0.88, 0.70]</text>
<text class="w" x="975.66" y="502.88" textLength="16.03" lengthAdjust="spacingAndGlyphs">0.37</text><text class="w" x="975.66" y="511.88" textLength="44.86" lengthAdjust="spacingAndGlyphs">[-0.63, 0.91]</text>
</g>
<clipPath id="c0"><rect x="60" y="64.5" width="945.2" height="466.5"/></clipPath>
<g clip-path="url(#c0)">
<rect x="414.45" y="64.5" width="59.08" height="51.83" fill="none" stroke="#ff0000" stroke-width="2.2"/>
<rect x="946.12" y="64.5" width="59.08" height="51.83" fill="none" stroke="#ff0000" stroke-width="2.2"/>
<rect x="650.75" y="220" width="59.08" height="51.83" fill="none" stroke="#ff0000" stroke-width="2.2"/>
</g>
<path d="M56.3 90.42H60M56.3 142.25H60M56.3 194.08H60M56.3 245.92H60M56.3 297.75H60M56.3 349.58H60M56.3 401.42H60M56.3 453.25H60M56.3 505.08H60M89.54 531V534.7M148.61 531V534.7M207.69 531V534.7M266.76 531V534.7M325.84 531V534.7M384.91 531V534.7M443.99 531V534.7M503.06 531V534.7M562.14 531V534.7M621.21 531V534.7M680.29 531V534.7M739.36 531V534.7M798.44 531V534.7M857.51 531V534.7M916.59 531V534.7M975.66 531V534.7" stroke="#000" stroke-width="0.9" fill="none"/>
<g font-size="9.26" class="k" stroke-width="0">
<text x="52.6" y="93.12" text-anchor="end" textLength="44.17" lengthAdjust="spacingAndGlyphs">U-Lowfreq</text>
<text x="52.6" y="144.95" text-anchor="end" textLength="47.04" lengthAdjust="spacingAndGlyphs">U-Highfreq</text>
<text x="52.6" y="196.78" text-anchor="end" textLength="50.55" lengthAdjust="spacingAndGlyphs">U-perfusion</text>
<text x="52.6" y="248.62" text-anchor="end" textLength="45.31" lengthAdjust="spacingAndGlyphs">M-Lowfreq</text>
<text x="52.6" y="300.45" text-anchor="end" textLength="48.19" lengthAdjust="spacingAndGlyphs">M-Highfreq</text>
<text x="52.6" y="352.28" text-anchor="end" textLength="51.7" lengthAdjust="spacingAndGlyphs">M-perfusion</text>
<text x="52.6" y="404.12" text-anchor="end" textLength="42.48" lengthAdjust="spacingAndGlyphs">L-Lowfreq</text>
<text x="52.6" y="455.95" text-anchor="end" textLength="45.36" lengthAdjust="spacingAndGlyphs">L-Highfreq</text>
<text x="52.6" y="507.78" text-anchor="end" textLength="48.87" lengthAdjust="spacingAndGlyphs">L-perfusion</text>
<text x="87.74" y="544" text-anchor="end" transform="rotate(-45 87.74 544)" textLength="73.56" lengthAdjust="spacingAndGlyphs">DhTrachea_norm</text>
<text x="146.81" y="544" text-anchor="end" transform="rotate(-45 146.81 544)" textLength="59.09" lengthAdjust="spacingAndGlyphs">DhRMB_norm</text>
<text x="205.89" y="544" text-anchor="end" transform="rotate(-45 205.89 544)" textLength="66.89" lengthAdjust="spacingAndGlyphs">DhTriRUL_norm</text>
<text x="264.96" y="544" text-anchor="end" transform="rotate(-45 264.96 544)" textLength="71.16" lengthAdjust="spacingAndGlyphs">DhBronint_norm</text>
<text x="324.04" y="544" text-anchor="end" transform="rotate(-45 324.04 544)" textLength="65.37" lengthAdjust="spacingAndGlyphs">DhTriRLL_norm</text>
<text x="383.11" y="544" text-anchor="end" transform="rotate(-45 383.11 544)" textLength="57.89" lengthAdjust="spacingAndGlyphs">DhLMB_norm</text>
<text x="442.19" y="544" text-anchor="end" transform="rotate(-45 442.19 544)" textLength="65.26" lengthAdjust="spacingAndGlyphs">DhTriLUL_norm</text>
<text x="501.26" y="544" text-anchor="end" transform="rotate(-45 501.26 544)" textLength="65.29" lengthAdjust="spacingAndGlyphs">DhTriLLB_norm</text>
<text x="560.34" y="544" text-anchor="end" transform="rotate(-45 560.34 544)" textLength="75.12" lengthAdjust="spacingAndGlyphs">WTTrachea_norm</text>
<text x="619.41" y="544" text-anchor="end" transform="rotate(-45 619.41 544)" textLength="60.8" lengthAdjust="spacingAndGlyphs">WTRMB_norm</text>
<text x="678.49" y="544" text-anchor="end" transform="rotate(-45 678.49 544)" textLength="68.45" lengthAdjust="spacingAndGlyphs">WTTriRUL_norm</text>
<text x="737.56" y="544" text-anchor="end" transform="rotate(-45 737.56 544)" textLength="72.87" lengthAdjust="spacingAndGlyphs">WTBronint_norm</text>
<text x="796.64" y="544" text-anchor="end" transform="rotate(-45 796.64 544)" textLength="66.92" lengthAdjust="spacingAndGlyphs">WTTriRLL_norm</text>
<text x="855.71" y="544" text-anchor="end" transform="rotate(-45 855.71 544)" textLength="59.6" lengthAdjust="spacingAndGlyphs">WTLMB_norm</text>
<text x="914.79" y="544" text-anchor="end" transform="rotate(-45 914.79 544)" textLength="66.81" lengthAdjust="spacingAndGlyphs">WTTriLUL_norm</text>
<text x="973.86" y="544" text-anchor="end" transform="rotate(-45 973.86 544)" textLength="66.85" lengthAdjust="spacingAndGlyphs">WTTriLLB_norm</text>
</g>
<text class="k" x="532.2" y="58.8" font-size="13.41" text-anchor="middle" textLength="449.94" lengthAdjust="spacingAndGlyphs">Spearman Correlation: EIT-Frequency vs. Segmental airways structures</text>
<g>
<rect x="102" y="658.2" width="82.43" height="78.58" fill="#3b8bc2"/>
<rect x="182.93" y="658.2" width="82.43" height="78.58" fill="#08306b"/>
<rect x="263.86" y="658.2" width="82.43" height="78.58" fill="#2e7ebc"/>
<rect x="344.79" y="658.2" width="82.43" height="78.58" fill="#5ba3d0"/>
<rect x="425.72" y="658.2" width="82.43" height="78.58" fill="#5ba3d0"/>
<rect x="506.65" y="658.2" width="82.43" height="78.58" fill="#7fb9da"/>
<rect x="587.58" y="658.2" width="82.43" height="78.58" fill="#1764ab"/>
<rect x="668.51" y="658.2" width="82.43" height="78.58" fill="#3b8bc2"/>
<rect x="749.44" y="658.2" width="82.43" height="78.58" fill="#3b8bc2"/>
<rect x="830.37" y="658.2" width="80.93" height="78.58" fill="#083c7d"/>
<rect x="102" y="735.28" width="82.43" height="78.58" fill="#7fb9da"/>
<rect x="182.93" y="735.28" width="82.43" height="78.58" fill="#d0e1f2"/>
<rect x="263.86" y="735.28" width="82.43" height="78.58" fill="#e3eef9"/>
<rect x="344.79" y="735.28" width="82.43" height="78.58" fill="#d9e8f5"/>
<rect x="425.72" y="735.28" width="82.43" height="78.58" fill="#a6cee4"/>
<rect x="506.65" y="735.28" width="82.43" height="78.58" fill="#c6dbef"/>
<rect x="587.58" y="735.28" width="82.43" height="78.58" fill="#94c4df"/>
<rect x="668.51" y="735.28" width="82.43" height="78.58" fill="#7fb9da"/>
<rect x="749.44" y="735.28" width="82.43" height="78.58" fill="#7fb9da"/>
<rect x="830.37" y="735.28" width="80.93" height="78.58" fill="#d9e8f5"/>
<rect x="102" y="812.36" width="82.43" height="78.58" fill="#c6dbef"/>
<rect x="182.93" y="812.36" width="82.43" height="78.58" fill="#7fb9da"/>
<rect x="263.86" y="812.36" width="82.43" height="78.58" fill="#d9e8f5"/>
<rect x="344.79" y="812.36" width="82.43" height="78.58" fill="#f7fbff"/>
<rect x="425.72" y="812.36" width="82.43" height="78.58" fill="#e3eef9"/>
<rect x="506.65" y="812.36" width="82.43" height="78.58" fill="#e3eef9"/>
<rect x="587.58" y="812.36" width="82.43" height="78.58" fill="#a6cee4"/>
<rect x="668.51" y="812.36" width="82.43" height="78.58" fill="#b7d4ea"/>
<rect x="749.44" y="812.36" width="82.43" height="78.58" fill="#c6dbef"/>
<rect x="830.37" y="812.36" width="80.93" height="78.58" fill="#a6cee4"/>
<rect x="102" y="889.43" width="82.43" height="78.58" fill="#083c7d"/>
<rect x="182.93" y="889.43" width="82.43" height="78.58" fill="#94c4df"/>
<rect x="263.86" y="889.43" width="82.43" height="78.58" fill="#d0e1f2"/>
<rect x="344.79" y="889.43" width="82.43" height="78.58" fill="#4a98c9"/>
<rect x="425.72" y="889.43" width="82.43" height="78.58" fill="#3b8bc2"/>
<rect x="506.65" y="889.43" width="82.43" height="78.58" fill="#3b8bc2"/>
<rect x="587.58" y="889.43" width="82.43" height="78.58" fill="#2070b4"/>
<rect x="668.51" y="889.43" width="82.43" height="78.58" fill="#0d57a1"/>
<rect x="749.44" y="889.43" width="82.43" height="78.58" fill="#083c7d"/>
<rect x="830.37" y="889.43" width="80.93" height="78.58" fill="#d0e1f2"/>
<rect x="102" y="966.51" width="82.43" height="78.58" fill="#7fb9da"/>
<rect x="182.93" y="966.51" width="82.43" height="78.58" fill="#6aaed6"/>
<rect x="263.86" y="966.51" width="82.43" height="78.58" fill="#b7d4ea"/>
<rect x="344.79" y="966.51" width="82.43" height="78.58" fill="#94c4df"/>
<rect x="425.72" y="966.51" width="82.43" height="78.58" fill="#0d57a1"/>
<rect x="506.65" y="966.51" width="82.43" height="78.58" fill="#94c4df"/>
<rect x="587.58" y="966.51" width="82.43" height="78.58" fill="#083c7d"/>
<rect x="668.51" y="966.51" width="82.43" height="78.58" fill="#94c4df"/>
<rect x="749.44" y="966.51" width="82.43" height="78.58" fill="#7fb9da"/>
<rect x="830.37" y="966.51" width="80.93" height="78.58" fill="#2e7ebc"/>
<rect x="102" y="1043.59" width="82.43" height="78.58" fill="#7fb9da"/>
<rect x="182.93" y="1043.59" width="82.43" height="78.58" fill="#6aaed6"/>
<rect x="263.86" y="1043.59" width="82.43" height="78.58" fill="#b7d4ea"/>
<rect x="344.79" y="1043.59" width="82.43" height="78.58" fill="#94c4df"/>
<rect x="425.72" y="1043.59" width="82.43" height="78.58" fill="#0d57a1"/>
<rect x="506.65" y="1043.59" width="82.43" height="78.58" fill="#94c4df"/>
<rect x="587.58" y="1043.59" width="82.43" height="78.58" fill="#083c7d"/>
<rect x="668.51" y="1043.59" width="82.43" height="78.58" fill="#94c4df"/>
<rect x="749.44" y="1043.59" width="82.43" height="78.58" fill="#7fb9da"/>
<rect x="830.37" y="1043.59" width="80.93" height="78.58" fill="#2e7ebc"/>
<rect x="102" y="1120.67" width="82.43" height="78.58" fill="#7cb7da"/>
<rect x="182.93" y="1120.67" width="82.43" height="78.58" fill="#5da5d1"/>
<rect x="263.86" y="1120.67" width="82.43" height="78.58" fill="#5da5d1"/>
<rect x="344.79" y="1120.67" width="82.43" height="78.58" fill="#5da5d1"/>
<rect x="425.72" y="1120.67" width="82.43" height="78.58" fill="#d0e1f2"/>
<rect x="506.65" y="1120.67" width="82.43" height="78.58" fill="#3282be"/>
<rect x="587.58" y="1120.67" width="82.43" height="78.58" fill="#d0e1f2"/>
<rect x="668.51" y="1120.67" width="82.43" height="78.58" fill="#a9cfe5"/>
<rect x="749.44" y="1120.67" width="82.43" height="78.58" fill="#7cb7da"/>
<rect x="830.37" y="1120.67" width="80.93" height="78.58" fill="#71b1d7"/>
<rect x="102" y="1197.74" width="82.43" height="78.58" fill="#084e98"/>
<rect x="182.93" y="1197.74" width="82.43" height="78.58" fill="#539ecd"/>
<rect x="263.86" y="1197.74" width="82.43" height="78.58" fill="#a9cfe5"/>
<rect x="344.79" y="1197.74" width="82.43" height="78.58" fill="#66abd4"/>
<rect x="425.72" y="1197.74" width="82.43" height="78.58" fill="#7cb7da"/>
<rect x="506.65" y="1197.74" width="82.43" height="78.58" fill="#71b1d7"/>
<rect x="587.58" y="1197.74" width="82.43" height="78.58" fill="#539ecd"/>
<rect x="668.51" y="1197.74" width="82.43" height="78.58" fill="#0b559f"/>
<rect x="749.44" y="1197.74" width="82.43" height="78.58" fill="#084e98"/>
<rect x="830.37" y="1197.74" width="80.93" height="78.58" fill="#bad6eb"/>
<rect x="102" y="1274.82" width="82.43" height="77.08" fill="#5da5d1"/>
<rect x="182.93" y="1274.82" width="82.43" height="77.08" fill="#7cb7da"/>
<rect x="263.86" y="1274.82" width="82.43" height="77.08" fill="#7cb7da"/>
<rect x="344.79" y="1274.82" width="82.43" height="77.08" fill="#7cb7da"/>
<rect x="425.72" y="1274.82" width="82.43" height="77.08" fill="#1764ab"/>
<rect x="506.65" y="1274.82" width="82.43" height="77.08" fill="#b2d2e8"/>
<rect x="587.58" y="1274.82" width="82.43" height="77.08" fill="#1764ab"/>
<rect x="668.51" y="1274.82" width="82.43" height="77.08" fill="#3989c1"/>
<rect x="749.44" y="1274.82" width="82.43" height="77.08" fill="#5da5d1"/>
<rect x="830.37" y="1274.82" width="80.93" height="77.08" fill="#66abd4"/>
</g>
<g font-size="12.4" text-anchor="middle" stroke-width="0.15">
<text class="w" x="142.47" y="693.54" textLength="26.05" lengthAdjust="spacingAndGlyphs">0.30</text><text class="w" x="142.47" y="707.74" textLength="72.89" lengthAdjust="spacingAndGlyphs">[-0.79, 0.93]</text>
<text class="w" x="223.39" y="693.54" textLength="26.05" lengthAdjust="spacingAndGlyphs">1.00</text><text class="w" x="223.39" y="707.74" textLength="68.67" lengthAdjust="spacingAndGlyphs">[1.00, 1.00]</text>
<text class="w" x="304.32" y="693.54" textLength="26.05" lengthAdjust="spacingAndGlyphs">0.40</text><text class="w" x="304.32" y="707.74" textLength="72.89" lengthAdjust="spacingAndGlyphs">[-0.75, 0.95]</text>
<text class="w" x="385.25" y="693.54" textLength="26.05" lengthAdjust="spacingAndGlyphs">0.10</text><text class="w" x="385.25" y="707.74" textLength="72.89" lengthAdjust="spacingAndGlyphs">[-0.86, 0.90]</text>
<text class="w" x="466.18" y="693.54" textLength="26.05" lengthAdjust="spacingAndGlyphs">0.10</text><text class="w" x="466.18" y="707.74" textLength="72.89" lengthAdjust="spacingAndGlyphs">[-0.86, 0.90]</text>
<text class="d" x="547.12" y="693.54" textLength="30.27" lengthAdjust="spacingAndGlyphs">-0.10</text><text class="d" x="547.12" y="707.74" textLength="72.89" lengthAdjust="spacingAndGlyphs">[-0.90, 0.86]</text>
<text class="w" x="628.04" y="693.54" textLength="26.05" lengthAdjust="spacingAndGlyphs">0.60</text><text class="w" x="628.04" y="707.74" textLength="72.89" lengthAdjust="spacingAndGlyphs">[-0.60, 0.97]</text>
<text class="w" x="708.97" y="693.54" textLength="26.05" lengthAdjust="spacingAndGlyphs">0.30</text><text class="w" x="708.97" y="707.74" textLength="72.89" lengthAdjust="spacingAndGlyphs">[-0.79, 0.93]</text>
<text class="w" x="789.9" y="693.54" textLength="26.05" lengthAdjust="spacingAndGlyphs">0.30</text><text class="w" x="789.9" y="707.74" textLength="72.89" lengthAdjust="spacingAndGlyphs">[-0.79, 0.93]</text>
<text class="w" x="870.83" y="693.54" textLength="26.05" lengthAdjust="spacingAndGlyphs">0.90</text><text class="w" x="870.83" y="707.74" textLength="68.67" lengthAdjust="spacingAndGlyphs">[0.09, 0.99]</text>
<text class="d" x="142.47" y="770.62" textLength="30.27" lengthAdjust="spacingAndGlyphs">-0.10</text><text class="d" x="142.47" y="784.82" textLength="72.89" lengthAdjust="spacingAndGlyphs">[-0.90, 0.86]</text>
<text class="d" x="223.39" y="770.62" textLength="30.27" lengthAdjust="spacingAndGlyphs">-0.60</text><text class="d" x="223.39" y="784.82" textLength="72.89" lengthAdjust="spacingAndGlyphs">[-0.97, 0.60]</text>
<text class="d" x="304.32" y="770.62" textLength="30.27" lengthAdjust="spacingAndGlyphs">-0.80</text><text class="d" x="304.32" y="784.82" textLength="72.89" lengthAdjust="spacingAndGlyphs">[-0.99, 0.28]</text>
<text class="d" x="385.25" y="770.62" textLength="30.27" lengthAdjust="spacingAndGlyphs">-0.70</text><text class="d" x="385.25" y="784.82" textLength="72.89" lengthAdjust="spacingAndGlyphs">[-0.98, 0.48]</text>
<text class="d" x="466.18" y="770.62" textLength="30.27" lengthAdjust="spacingAndGlyphs">-0.30</text><text class="d" x="466.18" y="784.82" textLength="72.89" lengthAdjust="spacingAndGlyphs">[-0.93, 0.79]</text>
<text class="d" x="547.12" y="770.62" textLength="30.27" lengthAdjust="spacingAndGlyphs">-0.50</text><text class="d" x="547.12" y="784.82" textLength="72.89" lengthAdjust="spacingAndGlyphs">[-0.96, 0.68]</text>
<text class="d" x="628.04" y="770.62" textLength="30.27" lengthAdjust="spacingAndGlyphs">-0.20</text><text class="d" x="628.04" y="784.82" textLength="72.89" lengthAdjust="spacingAndGlyphs">[-0.92, 0.83]</text>
<text class="d" x="708.97" y="770.62" textLength="30.27" lengthAdjust="spacingAndGlyphs">-0.10</text><text class="d" x="708.97" y="784.82" textLength="72.89" lengthAdjust="spacingAndGlyphs">[-0.90, 0.86]</text>
<text class="d" x="789.9" y="770.62" textLength="30.27" lengthAdjust="spacingAndGlyphs">-0.10</text><text class="d" x="789.9" y="784.82" textLength="72.89" lengthAdjust="spacingAndGlyphs">[-0.90, 0.86]</text>
<text class="d" x="870.83" y="770.62" textLength="30.27" lengthAdjust="spacingAndGlyphs">-0.70</text><text class="d" x="870.83" y="784.82" textLength="72.89" lengthAdjust="spacingAndGlyphs">[-0.98, 0.48]</text>
<text class="d" x="142.47" y="847.69" textLength="30.27" lengthAdjust="spacingAndGlyphs">-0.50</text><text class="d" x="142.47" y="861.89" textLength="72.89" lengthAdjust="spacingAndGlyphs">[-0.96, 0.68]</text>
<text class="d" x="223.39" y="847.69" textLength="30.27" lengthAdjust="spacingAndGlyphs">-0.10</text><text class="d" x="223.39" y="861.89" textLength="72.89" lengthAdjust="spacingAndGlyphs">[-0.90, 0.86]</text>
<text class="d" x="304.32" y="847.69" textLength="30.27" lengthAdjust="spacingAndGlyphs">-0.70</text><text class="d" x="304.32" y="861.89" textLength="72.89" lengthAdjust="spacingAndGlyphs">[-0.98, 0.48]</text>
<text class="d" x="385.25" y="847.69" textLength="30.27" lengthAdjust="spacingAndGlyphs">-1.00</text><text class="d" x="385.25" y="861.89" textLength="77.11" lengthAdjust="spacingAndGlyphs">[-1.00, -1.00]</text>
<text class="d" x="466.18" y="847.69" textLength="30.27" lengthAdjust="spacingAndGlyphs">-0.80</text><text class="d" x="466.18" y="861.89" textLength="72.89" lengthAdjust="spacingAndGlyphs">[-0.99, 0.28]</text>
<text class="d" x="547.12" y="847.69" textLength="30.27" lengthAdjust="spacingAndGlyphs">-0.80</text><text class="d" x="547.12" y="861.89" textLength="72.89" lengthAdjust="spacingAndGlyphs">[-0.99, 0.28]</text>
<text class="d" x="628.04" y="847.69" textLength="30.27" lengthAdjust="spacingAndGlyphs">-0.30</text><text class="d" x="628.04" y="861.89" textLength="72.89" lengthAdjust="spacingAndGlyphs">[-0.93, 0.79]</text>
<text class="d" x="708.97" y="847.69" textLength="30.27" lengthAdjust="spacingAndGlyphs">-0.40</text><text class="d" x="708.97" y="861.89" textLength="72.89" lengthAdjust="spacingAndGlyphs">[-0.95, 0.75]</text>
<text class="d" x="789.9" y="847.69" textLength="30.27" lengthAdjust="spacingAndGlyphs">-0.50</text><text class="d" x="789.9" y="861.89" textLength="72.89" lengthAdjust="spacingAndGlyphs">[-0.96, 0.68]</text>
<text class="d" x="870.83" y="847.69" textLength="30.27" lengthAdjust="spacingAndGlyphs">-0.30</text><text class="d" x="870.83" y="861.89" textLength="72.89" lengthAdjust="spacingAndGlyphs">[-0.93, 0.79]</text>
<text class="w" x="142.47" y="924.77" textLength="26.05" lengthAdjust="spacingAndGlyphs">0.90</text><text class="w" x="142.47" y="938.97" textLength="68.67" lengthAdjust="spacingAndGlyphs">[0.09, 0.99]</text>
<text class="d" x="223.39" y="924.77" textLength="30.27" lengthAdjust="spacingAndGlyphs">-0.20</text><text class="d" x="223.39" y="938.97" textLength="72.89" lengthAdjust="spacingAndGlyphs">[-0.92, 0.83]</text>
<text class="d" x="304.32" y="924.77" textLength="30.27" lengthAdjust="spacingAndGlyphs">-0.60</text><text class="d" x="304.32" y="938.97" textLength="72.89" lengthAdjust="spacingAndGlyphs">[-0.97, 0.60]</text>
<text class="w" x="385.25" y="924.77" textLength="26.05" lengthAdjust="spacingAndGlyphs">0.20</text><text class="w" x="385.25" y="938.97" textLength="72.89" lengthAdjust="spacingAndGlyphs">[-0.83, 0.92]</text>
<text class="w" x="466.18" y="924.77" textLength="26.05" lengthAdjust="spacingAndGlyphs">0.30</text><text class="w" x="466.18" y="938.97" textLength="72.89" lengthAdjust="spacingAndGlyphs">[-0.79, 0.93]</text>
<text class="w" x="547.12" y="924.77" textLength="26.05" lengthAdjust="spacingAndGlyphs">0.30</text><text class="w" x="547.12" y="938.97" textLength="72.89" lengthAdjust="spacingAndGlyphs">[-0.79, 0.93]</text>
<text class="w" x="628.04" y="924.77" textLength="26.05" lengthAdjust="spacingAndGlyphs">0.50</text><text class="w" x="628.04" y="938.97" textLength="72.89" lengthAdjust="spacingAndGlyphs">[-0.68, 0.96]</text>
<text class="w" x="708.97" y="924.77" textLength="26.05" lengthAdjust="spacingAndGlyphs">0.70</text><text class="w" x="708.97" y="938.97" textLength="72.89" lengthAdjust="spacingAndGlyphs">[-0.48, 0.98]</text>
<text class="w" x="789.9" y="924.77" textLength="26.05" lengthAdjust="spacingAndGlyphs">0.90</text><text class="w" x="789.9" y="938.97" textLength="68.67" lengthAdjust="spacingAndGlyphs">[0.09, 0.99]</text>
<text class="d" x="870.83" y="924.77" textLength="30.27" lengthAdjust="spacingAndGlyphs">-0.60</text><text class="d" x="870.83" y="938.97" textLength="72.89" lengthAdjust="spacingAndGlyphs">[-0.97, 0.60]</text>
<text class="d" x="142.47" y="1001.85" textLength="30.27" lengthAdjust="spacingAndGlyphs">-0.10</text><text class="d" x="142.47" y="1016.05" textLength="72.89" lengthAdjust="spacingAndGlyphs">[-0.90, 0.86]</text>
<text class="w" x="223.39" y="1001.85" textLength="26.05" lengthAdjust="spacingAndGlyphs">0.00</text><text class="w" x="223.39" y="1016.05" textLength="72.89" lengthAdjust="spacingAndGlyphs">[-0.88, 0.88]</text>
<text class="d" x="304.32" y="1001.85" textLength="30.27" lengthAdjust="spacingAndGlyphs">-0.40</text><text class="d" x="304.32" y="1016.05" textLength="72.89" lengthAdjust="spacingAndGlyphs">[-0.95, 0.75]</text>
<text class="d" x="385.25" y="1001.85" textLength="30.27" lengthAdjust="spacingAndGlyphs">-0.20</text><text class="d" x="385.25" y="1016.05" textLength="72.89" lengthAdjust="spacingAndGlyphs">[-0.92, 0.83]</text>
<text class="w" x="466.18" y="1001.85" textLength="26.05" lengthAdjust="spacingAndGlyphs">0.70</text><text class="w" x="466.18" y="1016.05" textLength="72.89" lengthAdjust="spacingAndGlyphs">[-0.48, 0.98]</text>
<text class="d" x="547.12" y="1001.85" textLength="30.27" lengthAdjust="spacingAndGlyphs">-0.20</text><text class="d" x="547.12" y="1016.05" textLength="72.89" lengthAdjust="spacingAndGlyphs">[-0.92, 0.83]</text>
<text class="w" x="628.04" y="1001.85" textLength="26.05" lengthAdjust="spacingAndGlyphs">0.90</text><text class="w" x="628.04" y="1016.05" textLength="68.67" lengthAdjust="spacingAndGlyphs">[0.09, 0.99]</text>
<text class="d" x="708.97" y="1001.85" textLength="30.27" lengthAdjust="spacingAndGlyphs">-0.20</text><text class="d" x="708.97" y="1016.05" textLength="72.89" lengthAdjust="spacingAndGlyphs">[-0.92, 0.83]</text>
<text class="d" x="789.9" y="1001.85" textLength="30.27" lengthAdjust="spacingAndGlyphs">-0.10</text><text class="d" x="789.9" y="1016.05" textLength="72.89" lengthAdjust="spacingAndGlyphs">[-0.90, 0.86]</text>
<text class="w" x="870.83" y="1001.85" textLength="26.05" lengthAdjust="spacingAndGlyphs">0.40</text><text class="w" x="870.83" y="1016.05" textLength="72.89" lengthAdjust="spacingAndGlyphs">[-0.75, 0.95]</text>
<text class="d" x="142.47" y="1078.93" textLength="30.27" lengthAdjust="spacingAndGlyphs">-0.10</text><text class="d" x="142.47" y="1093.13" textLength="72.89" lengthAdjust="spacingAndGlyphs">[-0.90, 0.86]</text>
<text class="w" x="223.39" y="1078.93" textLength="26.05" lengthAdjust="spacingAndGlyphs">0.00</text><text class="w" x="223.39" y="1093.13" textLength="72.89" lengthAdjust="spacingAndGlyphs">[-0.88, 0.88]</text>
<text class="d" x="304.32" y="1078.93" textLength="30.27" lengthAdjust="spacingAndGlyphs">-0.40</text><text class="d" x="304.32" y="1093.13" textLength="72.89" lengthAdjust="spacingAndGlyphs">[-0.95, 0.75]</text>
<text class="d" x="385.25" y="1078.93" textLength="30.27" lengthAdjust="spacingAndGlyphs">-0.20</text><text class="d" x="385.25" y="1093.13" textLength="72.89" lengthAdjust="spacingAndGlyphs">[-0.92, 0.83]</text>
<text class="w" x="466.18" y="1078.93" textLength="26.05" lengthAdjust="spacingAndGlyphs">0.70</text><text class="w" x="466.18" y="1093.13" textLength="72.89" lengthAdjust="spacingAndGlyphs">[-0.48, 0.98]</text>
<text class="d" x="547.12" y="1078.93" textLength="30.27" lengthAdjust="spacingAndGlyphs">-0.20</text><text class="d" x="547.12" y="1093.13" textLength="72.89" lengthAdjust="spacingAndGlyphs">[-0.92, 0.83]</text>
<text class="w" x="628.04" y="1078.93" textLength="26.05" lengthAdjust="spacingAndGlyphs">0.90</text><text class="w" x="628.04" y="1093.13" textLength="68.67" lengthAdjust="spacingAndGlyphs">[0.09, 0.99]</text>
<text class="d" x="708.97" y="1078.93" textLength="30.27" lengthAdjust="spacingAndGlyphs">-0.20</text><text class="d" x="708.97" y="1093.13" textLength="72.89" lengthAdjust="spacingAndGlyphs">[-0.92, 0.83]</text>
<text class="d" x="789.9" y="1078.93" textLength="30.27" lengthAdjust="spacingAndGlyphs">-0.10</text><text class="d" x="789.9" y="1093.13" textLength="72.89" lengthAdjust="spacingAndGlyphs">[-0.90, 0.86]</text>
<text class="w" x="870.83" y="1078.93" textLength="26.05" lengthAdjust="spacingAndGlyphs">0.40</text><text class="w" x="870.83" y="1093.13" textLength="72.89" lengthAdjust="spacingAndGlyphs">[-0.75, 0.95]</text>
<text class="d" x="142.47" y="1156.01" textLength="30.27" lengthAdjust="spacingAndGlyphs">-0.09</text><text class="d" x="142.47" y="1170.21" textLength="72.89" lengthAdjust="spacingAndGlyphs">[-0.84, 0.78]</text>
<text class="w" x="223.39" y="1156.01" textLength="26.05" lengthAdjust="spacingAndGlyphs">0.09</text><text class="w" x="223.39" y="1170.21" textLength="72.89" lengthAdjust="spacingAndGlyphs">[-0.78, 0.84]</text>
<text class="w" x="304.32" y="1156.01" textLength="26.05" lengthAdjust="spacingAndGlyphs">0.09</text><text class="w" x="304.32" y="1170.21" textLength="72.89" lengthAdjust="spacingAndGlyphs">[-0.78, 0.84]</text>
<text class="w" x="385.25" y="1156.01" textLength="26.05" lengthAdjust="spacingAndGlyphs">0.09</text><text class="w" x="385.25" y="1170.21" textLength="72.89" lengthAdjust="spacingAndGlyphs">[-0.78, 0.84]</text>
<text class="d" x="466.18" y="1156.01" textLength="30.27" lengthAdjust="spacingAndGlyphs">-0.60</text><text class="d" x="466.18" y="1170.21" textLength="72.89" lengthAdjust="spacingAndGlyphs">[-0.95, 0.41]</text>
<text class="w" x="547.12" y="1156.01" textLength="26.05" lengthAdjust="spacingAndGlyphs">0.37</text><text class="w" x="547.12" y="1170.21" textLength="72.89" lengthAdjust="spacingAndGlyphs">[-0.63, 0.91]</text>
<text class="d" x="628.04" y="1156.01" textLength="30.27" lengthAdjust="spacingAndGlyphs">-0.60</text><text class="d" x="628.04" y="1170.21" textLength="72.89" lengthAdjust="spacingAndGlyphs">[-0.95, 0.41]</text>
<text class="d" x="708.97" y="1156.01" textLength="30.27" lengthAdjust="spacingAndGlyphs">-0.31</text><text class="d" x="708.97" y="1170.21" textLength="72.89" lengthAdjust="spacingAndGlyphs">[-0.90, 0.67]</text>
<text class="d" x="789.9" y="1156.01" textLength="30.27" lengthAdjust="spacingAndGlyphs">-0.09</text><text class="d" x="789.9" y="1170.21" textLength="72.89" lengthAdjust="spacingAndGlyphs">[-0.84, 0.78]</text>
<text class="w" x="870.83" y="1156.01" textLength="30.27" lengthAdjust="spacingAndGlyphs">-0.03</text><text class="w" x="870.83" y="1170.21" textLength="72.89" lengthAdjust="spacingAndGlyphs">[-0.82, 0.80]</text>
<text class="w" x="142.47" y="1233.08" textLength="26.05" lengthAdjust="spacingAndGlyphs">0.77</text><text class="w" x="142.47" y="1247.28" textLength="72.89" lengthAdjust="spacingAndGlyphs">[-0.11, 0.97]</text>
<text class="w" x="223.39" y="1233.08" textLength="26.05" lengthAdjust="spacingAndGlyphs">0.14</text><text class="w" x="223.39" y="1247.28" textLength="72.89" lengthAdjust="spacingAndGlyphs">[-0.76, 0.86]</text>
<text class="d" x="304.32" y="1233.08" textLength="30.27" lengthAdjust="spacingAndGlyphs">-0.31</text><text class="d" x="304.32" y="1247.28" textLength="72.89" lengthAdjust="spacingAndGlyphs">[-0.90, 0.67]</text>
<text class="w" x="385.25" y="1233.08" textLength="26.05" lengthAdjust="spacingAndGlyphs">0.03</text><text class="w" x="385.25" y="1247.28" textLength="72.89" lengthAdjust="spacingAndGlyphs">[-0.80, 0.82]</text>
<text class="d" x="466.18" y="1233.08" textLength="30.27" lengthAdjust="spacingAndGlyphs">-0.09</text><text class="d" x="466.18" y="1247.28" textLength="72.89" lengthAdjust="spacingAndGlyphs">[-0.84, 0.78]</text>
<text class="w" x="547.12" y="1233.08" textLength="30.27" lengthAdjust="spacingAndGlyphs">-0.03</text><text class="w" x="547.12" y="1247.28" textLength="72.89" lengthAdjust="spacingAndGlyphs">[-0.82, 0.80]</text>
<text class="w" x="628.04" y="1233.08" textLength="26.05" lengthAdjust="spacingAndGlyphs">0.14</text><text class="w" x="628.04" y="1247.28" textLength="72.89" lengthAdjust="spacingAndGlyphs">[-0.76, 0.86]</text>
<text class="w" x="708.97" y="1233.08" textLength="26.05" lengthAdjust="spacingAndGlyphs">0.71</text><text class="w" x="708.97" y="1247.28" textLength="72.89" lengthAdjust="spacingAndGlyphs">[-0.23, 0.97]</text>
<text class="w" x="789.9" y="1233.08" textLength="26.05" lengthAdjust="spacingAndGlyphs">0.77</text><text class="w" x="789.9" y="1247.28" textLength="72.89" lengthAdjust="spacingAndGlyphs">[-0.11, 0.97]</text>
<text class="d" x="870.83" y="1233.08" textLength="30.27" lengthAdjust="spacingAndGlyphs">-0.43</text><text class="d" x="870.83" y="1247.28" textLength="72.89" lengthAdjust="spacingAndGlyphs">[-0.92, 0.59]</text>
<text class="w" x="142.47" y="1310.16" textLength="26.05" lengthAdjust="spacingAndGlyphs">0.09</text><text class="w" x="142.47" y="1324.36" textLength="72.89" lengthAdjust="spacingAndGlyphs">[-0.78, 0.84]</text>
<text class="d" x="223.39" y="1310.16" textLength="30.27" lengthAdjust="spacingAndGlyphs">-0.09</text><text class="d" x="223.39" y="1324.36" textLength="72.89" lengthAdjust="spacingAndGlyphs">[-0.84, 0.78]</text>
<text class="d" x="304.32" y="1310.16" textLength="30.27" lengthAdjust="spacingAndGlyphs">-0.09</text><text class="d" x="304.32" y="1324.36" textLength="72.89" lengthAdjust="spacingAndGlyphs">[-0.84, 0.78]</text>
<text class="d" x="385.25" y="1310.16" textLength="30.27" lengthAdjust="spacingAndGlyphs">-0.09</text><text class="d" x="385.25" y="1324.36" textLength="72.89" lengthAdjust="spacingAndGlyphs">[-0.84, 0.78]</text>
<text class="w" x="466.18" y="1310.16" textLength="26.05" lengthAdjust="spacingAndGlyphs">0.60</text><text class="w" x="466.18" y="1324.36" textLength="72.89" lengthAdjust="spacingAndGlyphs">[-0.41, 0.95]</text>
<text class="d" x="547.12" y="1310.16" textLength="30.27" lengthAdjust="spacingAndGlyphs">-0.37</text><text class="d" x="547.12" y="1324.36" textLength="72.89" lengthAdjust="spacingAndGlyphs">[-0.91, 0.63]</text>
<text class="w" x="628.04" y="1310.16" textLength="26.05" lengthAdjust="spacingAndGlyphs">0.60</text><text class="w" x="628.04" y="1324.36" textLength="72.89" lengthAdjust="spacingAndGlyphs">[-0.41, 0.95]</text>
<text class="w" x="708.97" y="1310.16" textLength="26.05" lengthAdjust="spacingAndGlyphs">0.31</text><text class="w" x="708.97" y="1324.36" textLength="72.89" lengthAdjust="spacingAndGlyphs">[-0.67, 0.90]</text>
<text class="w" x="789.9" y="1310.16" textLength="26.05" lengthAdjust="spacingAndGlyphs">0.09</text><text class="w" x="789.9" y="1324.36" textLength="72.89" lengthAdjust="spacingAndGlyphs">[-0.78, 0.84]</text>
<text class="w" x="870.83" y="1310.16" textLength="26.05" lengthAdjust="spacingAndGlyphs">0.03</text><text class="w" x="870.83" y="1324.36" textLength="72.89" lengthAdjust="spacingAndGlyphs">[-0.80, 0.82]</text>
</g>
<clipPath id="c1"><rect x="102" y="658.2" width="809.3" height="693.7"/></clipPath>
<g clip-path="url(#c1)">
<rect x="182.93" y="658.2" width="80.93" height="77.08" fill="none" stroke="#ff0000" stroke-width="3.0"/>
<rect x="344.79" y="812.36" width="80.93" height="77.08" fill="none" stroke="#ff0000" stroke-width="3.0"/>
</g>
<path d="M97 696.94H102M97 774.02H102M97 851.09H102M97 928.17H102M97 1005.25H102M97 1082.33H102M97 1159.41H102M97 1236.48H102M97 1313.56H102M142.47 1351.9V1356.9M223.39 1351.9V1356.9M304.32 1351.9V1356.9M385.25 1351.9V1356.9M466.18 1351.9V1356.9M547.12 1351.9V1356.9M628.04 1351.9V1356.9M708.97 1351.9V1356.9M789.9 1351.9V1356.9M870.83 1351.9V1356.9" stroke="#000" stroke-width="1.2" fill="none"/>
<g font-size="13.57" class="k" stroke-width="0.15">
<text x="91.3" y="700.94" text-anchor="end" textLength="64.68" lengthAdjust="spacingAndGlyphs">U-Lowfreq</text>
<text x="91.3" y="778.02" text-anchor="end" textLength="68.89" lengthAdjust="spacingAndGlyphs">U-Highfreq</text>
<text x="91.3" y="855.09" text-anchor="end" textLength="74.04" lengthAdjust="spacingAndGlyphs">U-perfusion</text>
<text x="91.3" y="932.17" text-anchor="end" textLength="66.36" lengthAdjust="spacingAndGlyphs">M-Lowfreq</text>
<text x="91.3" y="1009.25" text-anchor="end" textLength="70.57" lengthAdjust="spacingAndGlyphs">M-Highfreq</text>
<text x="91.3" y="1086.33" text-anchor="end" textLength="75.71" lengthAdjust="spacingAndGlyphs">M-perfusion</text>
<text x="91.3" y="1163.41" text-anchor="end" textLength="62.22" lengthAdjust="spacingAndGlyphs">L-Lowfreq</text>
<text x="91.3" y="1240.48" text-anchor="end" textLength="66.43" lengthAdjust="spacingAndGlyphs">L-Highfreq</text>
<text x="91.3" y="1317.56" text-anchor="end" textLength="71.58" lengthAdjust="spacingAndGlyphs">L-perfusion</text>
<text x="139.06" y="1370.9" text-anchor="end" transform="rotate(-45 139.06 1370.9)" textLength="89.88" lengthAdjust="spacingAndGlyphs">DhsRUL_norm</text>
<text x="219.99" y="1370.9" text-anchor="end" transform="rotate(-45 219.99 1370.9)" textLength="91.56" lengthAdjust="spacingAndGlyphs">DhsRML_norm</text>
<text x="300.93" y="1370.9" text-anchor="end" transform="rotate(-45 300.93 1370.9)" textLength="87.64" lengthAdjust="spacingAndGlyphs">DhsRLL_norm</text>
<text x="381.86" y="1370.9" text-anchor="end" transform="rotate(-45 381.86 1370.9)" textLength="87.48" lengthAdjust="spacingAndGlyphs">DhsLUL_norm</text>
<text x="462.78" y="1370.9" text-anchor="end" transform="rotate(-45 462.78 1370.9)" textLength="85.88" lengthAdjust="spacingAndGlyphs">DhsLLL_norm</text>
<text x="543.72" y="1370.9" text-anchor="end" transform="rotate(-45 543.72 1370.9)" textLength="90.27" lengthAdjust="spacingAndGlyphs">WTsRUL_norm</text>
<text x="624.64" y="1370.9" text-anchor="end" transform="rotate(-45 624.64 1370.9)" textLength="91.94" lengthAdjust="spacingAndGlyphs">WTsRML_norm</text>
<text x="705.57" y="1370.9" text-anchor="end" transform="rotate(-45 705.57 1370.9)" textLength="88.03" lengthAdjust="spacingAndGlyphs">WTsRLL_norm</text>
<text x="786.5" y="1370.9" text-anchor="end" transform="rotate(-45 786.5 1370.9)" textLength="87.87" lengthAdjust="spacingAndGlyphs">WTsLUL_norm</text>
<text x="867.43" y="1370.9" text-anchor="end" transform="rotate(-45 867.43 1370.9)" textLength="86.27" lengthAdjust="spacingAndGlyphs">WTsLLL_norm</text>
</g>
<text class="k" x="506.6" y="649.8" font-size="19.58" text-anchor="middle" textLength="669.27" lengthAdjust="spacingAndGlyphs">Spearman Correlation: EIT-Frequency vs. Subgrouped airways structures</text>
<g>
<rect x="61" y="1546" width="60.5" height="46.72" fill="#85bcdc"/>
<rect x="120" y="1546" width="60.5" height="46.72" fill="#ebf3fb"/>
<rect x="179" y="1546" width="60.5" height="46.72" fill="#56a0ce"/>
<rect x="238" y="1546" width="60.5" height="46.72" fill="#ebf3fb"/>
<rect x="297" y="1546" width="60.5" height="46.72" fill="#084082"/>
<rect x="356" y="1546" width="60.5" height="46.72" fill="#ebf3fb"/>
<rect x="415" y="1546" width="60.5" height="46.72" fill="#08306b"/>
<rect x="474" y="1546" width="60.5" height="46.72" fill="#9fcae1"/>
<rect x="533" y="1546" width="60.5" height="46.72" fill="#d2e3f3"/>
<rect x="592" y="1546" width="60.5" height="46.72" fill="#6aaed6"/>
<rect x="651" y="1546" width="60.5" height="46.72" fill="#08306b"/>
<rect x="710" y="1546" width="60.5" height="46.72" fill="#6aaed6"/>
<rect x="769" y="1546" width="60.5" height="46.72" fill="#56a0ce"/>
<rect x="828" y="1546" width="60.5" height="46.72" fill="#b2d2e8"/>
<rect x="887" y="1546" width="60.5" height="46.72" fill="#c6dbef"/>
<rect x="946" y="1546" width="59" height="46.72" fill="#c6dbef"/>
<rect x="61" y="1591.22" width="60.5" height="46.72" fill="#5fa6d1"/>
<rect x="120" y="1591.22" width="60.5" height="46.72" fill="#e9f2fa"/>
<rect x="179" y="1591.22" width="60.5" height="46.72" fill="#a4cce3"/>
<rect x="238" y="1591.22" width="60.5" height="46.72" fill="#89bedc"/>
<rect x="297" y="1591.22" width="60.5" height="46.72" fill="#08306b"/>
<rect x="356" y="1591.22" width="60.5" height="46.72" fill="#afd1e7"/>
<rect x="415" y="1591.22" width="60.5" height="46.72" fill="#bad6eb"/>
<rect x="474" y="1591.22" width="60.5" height="46.72" fill="#afd1e7"/>
<rect x="533" y="1591.22" width="60.5" height="46.72" fill="#4896c8"/>
<rect x="592" y="1591.22" width="60.5" height="46.72" fill="#084387"/>
<rect x="651" y="1591.22" width="60.5" height="46.72" fill="#5fa6d1"/>
<rect x="710" y="1591.22" width="60.5" height="46.72" fill="#2b7bba"/>
<rect x="769" y="1591.22" width="60.5" height="46.72" fill="#08306b"/>
<rect x="828" y="1591.22" width="60.5" height="46.72" fill="#539ecd"/>
<rect x="887" y="1591.22" width="60.5" height="46.72" fill="#d4e4f4"/>
<rect x="946" y="1591.22" width="59" height="46.72" fill="#083979"/>
<rect x="61" y="1636.43" width="60.5" height="46.72" fill="#bad6eb"/>
<rect x="120" y="1636.43" width="60.5" height="46.72" fill="#2b7bba"/>
<rect x="179" y="1636.43" width="60.5" height="46.72" fill="#97c6df"/>
<rect x="238" y="1636.43" width="60.5" height="46.72" fill="#c6dbef"/>
<rect x="297" y="1636.43" width="60.5" height="46.72" fill="#afd1e7"/>
<rect x="356" y="1636.43" width="60.5" height="46.72" fill="#3484bf"/>
<rect x="415" y="1636.43" width="60.5" height="46.72" fill="#084387"/>
<rect x="474" y="1636.43" width="60.5" height="46.72" fill="#dbe9f6"/>
<rect x="533" y="1636.43" width="60.5" height="46.72" fill="#89bedc"/>
<rect x="592" y="1636.43" width="60.5" height="46.72" fill="#c6dbef"/>
<rect x="651" y="1636.43" width="60.5" height="46.72" fill="#539ecd"/>
<rect x="710" y="1636.43" width="60.5" height="46.72" fill="#c6dbef"/>
<rect x="769" y="1636.43" width="60.5" height="46.72" fill="#97c6df"/>
<rect x="828" y="1636.43" width="60.5" height="46.72" fill="#afd1e7"/>
<rect x="887" y="1636.43" width="60.5" height="46.72" fill="#bad6eb"/>
<rect x="946" y="1636.43" width="59" height="46.72" fill="#afd1e7"/>
<rect x="61" y="1681.65" width="60.5" height="46.72" fill="#f7fbff"/>
<rect x="120" y="1681.65" width="60.5" height="46.72" fill="#c6dbef"/>
<rect x="179" y="1681.65" width="60.5" height="46.72" fill="#c6dbef"/>
<rect x="238" y="1681.65" width="60.5" height="46.72" fill="#c6dbef"/>
<rect x="297" y="1681.65" width="60.5" height="46.72" fill="#c6dbef"/>
<rect x="356" y="1681.65" width="60.5" height="46.72" fill="#9fcae1"/>
<rect x="415" y="1681.65" width="60.5" height="46.72" fill="#3181bd"/>
<rect x="474" y="1681.65" width="60.5" height="46.72" fill="#ebf3fb"/>
<rect x="533" y="1681.65" width="60.5" height="46.72" fill="#4191c6"/>
<rect x="592" y="1681.65" width="60.5" height="46.72" fill="#1460a8"/>
<rect x="651" y="1681.65" width="60.5" height="46.72" fill="#56a0ce"/>
<rect x="710" y="1681.65" width="60.5" height="46.72" fill="#85bcdc"/>
<rect x="769" y="1681.65" width="60.5" height="46.72" fill="#c6dbef"/>
<rect x="828" y="1681.65" width="60.5" height="46.72" fill="#56a0ce"/>
<rect x="887" y="1681.65" width="60.5" height="46.72" fill="#b2d2e8"/>
<rect x="946" y="1681.65" width="59" height="46.72" fill="#56a0ce"/>
<rect x="61" y="1726.87" width="60.5" height="46.72" fill="#c6dbef"/>
<rect x="120" y="1726.87" width="60.5" height="46.72" fill="#bad6eb"/>
<rect x="179" y="1726.87" width="60.5" height="46.72" fill="#afd1e7"/>
<rect x="238" y="1726.87" width="60.5" height="46.72" fill="#e2edf8"/>
<rect x="297" y="1726.87" width="60.5" height="46.72" fill="#4896c8"/>
<rect x="356" y="1726.87" width="60.5" height="46.72" fill="#97c6df"/>
<rect x="415" y="1726.87" width="60.5" height="46.72" fill="#3484bf"/>
<rect x="474" y="1726.87" width="60.5" height="46.72" fill="#f0f6fd"/>
<rect x="533" y="1726.87" width="60.5" height="46.72" fill="#7ab6d9"/>
<rect x="592" y="1726.87" width="60.5" height="46.72" fill="#539ecd"/>
<rect x="651" y="1726.87" width="60.5" height="46.72" fill="#3d8dc4"/>
<rect x="710" y="1726.87" width="60.5" height="46.72" fill="#7ab6d9"/>
<rect x="769" y="1726.87" width="60.5" height="46.72" fill="#4896c8"/>
<rect x="828" y="1726.87" width="60.5" height="46.72" fill="#97c6df"/>
<rect x="887" y="1726.87" width="60.5" height="46.72" fill="#e9f2fa"/>
<rect x="946" y="1726.87" width="59" height="46.72" fill="#539ecd"/>
<rect x="61" y="1772.08" width="60.5" height="45.22" fill="#539ecd"/>
<rect x="120" y="1772.08" width="60.5" height="45.22" fill="#1967ad"/>
<rect x="179" y="1772.08" width="60.5" height="45.22" fill="#3484bf"/>
<rect x="238" y="1772.08" width="60.5" height="45.22" fill="#afd1e7"/>
<rect x="297" y="1772.08" width="60.5" height="45.22" fill="#7ab6d9"/>
<rect x="356" y="1772.08" width="60.5" height="45.22" fill="#084c95"/>
<rect x="415" y="1772.08" width="60.5" height="45.22" fill="#2b7bba"/>
<rect x="474" y="1772.08" width="60.5" height="45.22" fill="#bad6eb"/>
<rect x="533" y="1772.08" width="60.5" height="45.22" fill="#539ecd"/>
<rect x="592" y="1772.08" width="60.5" height="45.22" fill="#afd1e7"/>
<rect x="651" y="1772.08" width="60.5" height="45.22" fill="#3d8dc4"/>
<rect x="710" y="1772.08" width="60.5" height="45.22" fill="#5fa6d1"/>
<rect x="769" y="1772.08" width="60.5" height="45.22" fill="#4896c8"/>
<rect x="828" y="1772.08" width="60.5" height="45.22" fill="#7ab6d9"/>
<rect x="887" y="1772.08" width="60.5" height="45.22" fill="#a4cce3"/>
<rect x="946" y="1772.08" width="59" height="45.22" fill="#5fa6d1"/>
</g>
<g font-size="8.48" text-anchor="middle" stroke-width="0">
<text class="d" x="90.5" y="1566.01" textLength="20.7" lengthAdjust="spacingAndGlyphs">-0.30</text><text class="d" x="90.5" y="1576.11" textLength="49.84" lengthAdjust="spacingAndGlyphs">[-0.93, 0.79]</text>
<text class="d" x="149.5" y="1566.01" textLength="20.7" lengthAdjust="spacingAndGlyphs">-0.90</text><text class="d" x="149.5" y="1576.11" textLength="52.73" lengthAdjust="spacingAndGlyphs">[-0.99, -0.09]</text>
<text class="w" x="208.5" y="1566.01" textLength="20.7" lengthAdjust="spacingAndGlyphs">-0.10</text><text class="w" x="208.5" y="1576.11" textLength="49.84" lengthAdjust="spacingAndGlyphs">[-0.90, 0.86]</text>
<text class="d" x="267.5" y="1566.01" textLength="20.7" lengthAdjust="spacingAndGlyphs">-0.90</text><text class="d" x="267.5" y="1576.11" textLength="52.73" lengthAdjust="spacingAndGlyphs">[-0.99, -0.09]</text>
<text class="w" x="326.5" y="1566.01" textLength="17.81" lengthAdjust="spacingAndGlyphs">0.50</text><text class="w" x="326.5" y="1576.11" textLength="49.84" lengthAdjust="spacingAndGlyphs">[-0.68, 0.96]</text>
<text class="d" x="385.5" y="1566.01" textLength="20.7" lengthAdjust="spacingAndGlyphs">-0.90</text><text class="d" x="385.5" y="1576.11" textLength="52.73" lengthAdjust="spacingAndGlyphs">[-0.99, -0.09]</text>
<text class="w" x="444.5" y="1566.01" textLength="17.81" lengthAdjust="spacingAndGlyphs">0.60</text><text class="w" x="444.5" y="1576.11" textLength="49.84" lengthAdjust="spacingAndGlyphs">[-0.60, 0.97]</text>
<text class="d" x="503.5" y="1566.01" textLength="20.7" lengthAdjust="spacingAndGlyphs">-0.40</text><text class="d" x="503.5" y="1576.11" textLength="49.84" lengthAdjust="spacingAndGlyphs">[-0.95, 0.75]</text>
<text class="d" x="562.5" y="1566.01" textLength="20.7" lengthAdjust="spacingAndGlyphs">-0.70</text><text class="d" x="562.5" y="1576.11" textLength="49.84" lengthAdjust="spacingAndGlyphs">[-0.98, 0.48]</text>
<text class="w" x="621.5" y="1566.01" textLength="20.7" lengthAdjust="spacingAndGlyphs">-0.20</text><text class="w" x="621.5" y="1576.11" textLength="49.84" lengthAdjust="spacingAndGlyphs">[-0.92, 0.83]</text>
<text class="w" x="680.5" y="1566.01" textLength="17.81" lengthAdjust="spacingAndGlyphs">0.60</text><text class="w" x="680.5" y="1576.11" textLength="49.84" lengthAdjust="spacingAndGlyphs">[-0.60, 0.97]</text>
<text class="w" x="739.5" y="1566.01" textLength="20.7" lengthAdjust="spacingAndGlyphs">-0.20</text><text class="w" x="739.5" y="1576.11" textLength="49.84" lengthAdjust="spacingAndGlyphs">[-0.92, 0.83]</text>
<text class="w" x="798.5" y="1566.01" textLength="20.7" lengthAdjust="spacingAndGlyphs">-0.10</text><text class="w" x="798.5" y="1576.11" textLength="49.84" lengthAdjust="spacingAndGlyphs">[-0.90, 0.86]</text>
<text class="d" x="857.5" y="1566.01" textLength="20.7" lengthAdjust="spacingAndGlyphs">-0.50</text><text class="d" x="857.5" y="1576.11" textLength="49.84" lengthAdjust="spacingAndGlyphs">[-0.96, 0.68]</text>
<text class="d" x="916.5" y="1566.01" textLength="20.7" lengthAdjust="spacingAndGlyphs">-0.60</text><text class="d" x="916.5" y="1576.11" textLength="49.84" lengthAdjust="spacingAndGlyphs">[-0.97, 0.60]</text>
<text class="d" x="975.5" y="1566.01" textLength="20.7" lengthAdjust="spacingAndGlyphs">-0.60</text><text class="d" x="975.5" y="1576.11" textLength="49.84" lengthAdjust="spacingAndGlyphs">[-0.97, 0.60]</text>
<text class="w" x="90.5" y="1611.23" textLength="20.7" lengthAdjust="spacingAndGlyphs">-0.14</text><text class="w" x="90.5" y="1621.33" textLength="49.84" lengthAdjust="spacingAndGlyphs">[-0.86, 0.76]</text>
<text class="d" x="149.5" y="1611.23" textLength="20.7" lengthAdjust="spacingAndGlyphs">-0.89</text><text class="d" x="149.5" y="1621.33" textLength="52.73" lengthAdjust="spacingAndGlyphs">[-0.99, -0.26]</text>
<text class="d" x="208.5" y="1611.23" textLength="20.7" lengthAdjust="spacingAndGlyphs">-0.43</text><text class="d" x="208.5" y="1621.33" textLength="49.84" lengthAdjust="spacingAndGlyphs">[-0.92, 0.59]</text>
<text class="d" x="267.5" y="1611.23" textLength="20.7" lengthAdjust="spacingAndGlyphs">-0.31</text><text class="d" x="267.5" y="1621.33" textLength="49.84" lengthAdjust="spacingAndGlyphs">[-0.90, 0.67]</text>
<text class="w" x="326.5" y="1611.23" textLength="17.81" lengthAdjust="spacingAndGlyphs">0.60</text><text class="w" x="326.5" y="1621.33" textLength="49.84" lengthAdjust="spacingAndGlyphs">[-0.41, 0.95]</text>
<text class="d" x="385.5" y="1611.23" textLength="20.7" lengthAdjust="spacingAndGlyphs">-0.49</text><text class="d" x="385.5" y="1621.33" textLength="49.84" lengthAdjust="spacingAndGlyphs">[-0.93, 0.54]</text>
<text class="d" x="444.5" y="1611.23" textLength="20.7" lengthAdjust="spacingAndGlyphs">-0.54</text><text class="d" x="444.5" y="1621.33" textLength="49.84" lengthAdjust="spacingAndGlyphs">[-0.94, 0.48]</text>
<text class="d" x="503.5" y="1611.23" textLength="20.7" lengthAdjust="spacingAndGlyphs">-0.49</text><text class="d" x="503.5" y="1621.33" textLength="49.84" lengthAdjust="spacingAndGlyphs">[-0.93, 0.54]</text>
<text class="w" x="562.5" y="1611.23" textLength="20.7" lengthAdjust="spacingAndGlyphs">-0.03</text><text class="w" x="562.5" y="1621.33" textLength="49.84" lengthAdjust="spacingAndGlyphs">[-0.82, 0.80]</text>
<text class="w" x="621.5" y="1611.23" textLength="17.81" lengthAdjust="spacingAndGlyphs">0.49</text><text class="w" x="621.5" y="1621.33" textLength="49.84" lengthAdjust="spacingAndGlyphs">[-0.54, 0.93]</text>
<text class="w" x="680.5" y="1611.23" textLength="20.7" lengthAdjust="spacingAndGlyphs">-0.14</text><text class="w" x="680.5" y="1621.33" textLength="49.84" lengthAdjust="spacingAndGlyphs">[-0.86, 0.76]</text>
<text class="w" x="739.5" y="1611.23" textLength="17.81" lengthAdjust="spacingAndGlyphs">0.14</text><text class="w" x="739.5" y="1621.33" textLength="49.84" lengthAdjust="spacingAndGlyphs">[-0.76, 0.86]</text>
<text class="w" x="798.5" y="1611.23" textLength="17.81" lengthAdjust="spacingAndGlyphs">0.60</text><text class="w" x="798.5" y="1621.33" textLength="49.84" lengthAdjust="spacingAndGlyphs">[-0.41, 0.95]</text>
<text class="w" x="857.5" y="1611.23" textLength="20.7" lengthAdjust="spacingAndGlyphs">-0.09</text><text class="w" x="857.5" y="1621.33" textLength="49.84" lengthAdjust="spacingAndGlyphs">[-0.84, 0.78]</text>
<text class="d" x="916.5" y="1611.23" textLength="20.7" lengthAdjust="spacingAndGlyphs">-0.71</text><text class="d" x="916.5" y="1621.33" textLength="49.84" lengthAdjust="spacingAndGlyphs">[-0.97, 0.23]</text>
<text class="w" x="975.5" y="1611.23" textLength="17.81" lengthAdjust="spacingAndGlyphs">0.54</text><text class="w" x="975.5" y="1621.33" textLength="49.84" lengthAdjust="spacingAndGlyphs">[-0.48, 0.94]</text>
<text class="d" x="90.5" y="1656.44" textLength="20.7" lengthAdjust="spacingAndGlyphs">-0.54</text><text class="d" x="90.5" y="1666.54" textLength="49.84" lengthAdjust="spacingAndGlyphs">[-0.94, 0.48]</text>
<text class="w" x="149.5" y="1656.44" textLength="17.81" lengthAdjust="spacingAndGlyphs">0.14</text><text class="w" x="149.5" y="1666.54" textLength="49.84" lengthAdjust="spacingAndGlyphs">[-0.76, 0.86]</text>
<text class="d" x="208.5" y="1656.44" textLength="20.7" lengthAdjust="spacingAndGlyphs">-0.37</text><text class="d" x="208.5" y="1666.54" textLength="49.84" lengthAdjust="spacingAndGlyphs">[-0.91, 0.63]</text>
<text class="d" x="267.5" y="1656.44" textLength="20.7" lengthAdjust="spacingAndGlyphs">-0.60</text><text class="d" x="267.5" y="1666.54" textLength="49.84" lengthAdjust="spacingAndGlyphs">[-0.95, 0.41]</text>
<text class="d" x="326.5" y="1656.44" textLength="20.7" lengthAdjust="spacingAndGlyphs">-0.49</text><text class="d" x="326.5" y="1666.54" textLength="49.84" lengthAdjust="spacingAndGlyphs">[-0.93, 0.54]</text>
<text class="w" x="385.5" y="1656.44" textLength="17.81" lengthAdjust="spacingAndGlyphs">0.09</text><text class="w" x="385.5" y="1666.54" textLength="49.84" lengthAdjust="spacingAndGlyphs">[-0.78, 0.84]</text>
<text class="w" x="444.5" y="1656.44" textLength="17.81" lengthAdjust="spacingAndGlyphs">0.49</text><text class="w" x="444.5" y="1666.54" textLength="49.84" lengthAdjust="spacingAndGlyphs">[-0.54, 0.93]</text>
<text class="d" x="503.5" y="1656.44" textLength="20.7" lengthAdjust="spacingAndGlyphs">-0.77</text><text class="d" x="503.5" y="1666.54" textLength="49.84" lengthAdjust="spacingAndGlyphs">[-0.97, 0.11]</text>
<text class="d" x="562.5" y="1656.44" textLength="20.7" lengthAdjust="spacingAndGlyphs">-0.31</text><text class="d" x="562.5" y="1666.54" textLength="49.84" lengthAdjust="spacingAndGlyphs">[-0.90, 0.67]</text>
<text class="d" x="621.5" y="1656.44" textLength="20.7" lengthAdjust="spacingAndGlyphs">-0.60</text><text class="d" x="621.5" y="1666.54" textLength="49.84" lengthAdjust="spacingAndGlyphs">[-0.95, 0.41]</text>
<text class="w" x="680.5" y="1656.44" textLength="20.7" lengthAdjust="spacingAndGlyphs">-0.09</text><text class="w" x="680.5" y="1666.54" textLength="49.84" lengthAdjust="spacingAndGlyphs">[-0.84, 0.78]</text>
<text class="d" x="739.5" y="1656.44" textLength="20.7" lengthAdjust="spacingAndGlyphs">-0.60</text><text class="d" x="739.5" y="1666.54" textLength="49.84" lengthAdjust="spacingAndGlyphs">[-0.95, 0.41]</text>
<text class="d" x="798.5" y="1656.44" textLength="20.7" lengthAdjust="spacingAndGlyphs">-0.37</text><text class="d" x="798.5" y="1666.54" textLength="49.84" lengthAdjust="spacingAndGlyphs">[-0.91, 0.63]</text>
<text class="d" x="857.5" y="1656.44" textLength="20.7" lengthAdjust="spacingAndGlyphs">-0.49</text><text class="d" x="857.5" y="1666.54" textLength="49.84" lengthAdjust="spacingAndGlyphs">[-0.93, 0.54]</text>
<text class="d" x="916.5" y="1656.44" textLength="20.7" lengthAdjust="spacingAndGlyphs">-0.54</text><text class="d" x="916.5" y="1666.54" textLength="49.84" lengthAdjust="spacingAndGlyphs">[-0.94, 0.48]</text>
<text class="d" x="975.5" y="1656.44" textLength="20.7" lengthAdjust="spacingAndGlyphs">-0.49</text><text class="d" x="975.5" y="1666.54" textLength="49.84" lengthAdjust="spacingAndGlyphs">[-0.93, 0.54]</text>
<text class="d" x="90.5" y="1701.66" textLength="20.7" lengthAdjust="spacingAndGlyphs">-1.00</text><text class="d" x="90.5" y="1711.76" textLength="52.73" lengthAdjust="spacingAndGlyphs">[-1.00, -1.00]</text>
<text class="d" x="149.5" y="1701.66" textLength="20.7" lengthAdjust="spacingAndGlyphs">-0.60</text><text class="d" x="149.5" y="1711.76" textLength="49.84" lengthAdjust="spacingAndGlyphs">[-0.97, 0.60]</text>
<text class="d" x="208.5" y="1701.66" textLength="20.7" lengthAdjust="spacingAndGlyphs">-0.60</text><text class="d" x="208.5" y="1711.76" textLength="49.84" lengthAdjust="spacingAndGlyphs">[-0.97, 0.60]</text>
<text class="d" x="267.5" y="1701.66" textLength="20.7" lengthAdjust="spacingAndGlyphs">-0.60</text><text class="d" x="267.5" y="1711.76" textLength="49.84" lengthAdjust="spacingAndGlyphs">[-0.97, 0.60]</text>
<text class="d" x="326.5" y="1701.66" textLength="20.7" lengthAdjust="spacingAndGlyphs">-0.60</text><text class="d" x="326.5" y="1711.76" textLength="49.84" lengthAdjust="spacingAndGlyphs">[-0.97, 0.60]</text>
<text class="d" x="385.5" y="1701.66" textLength="20.7" lengthAdjust="spacingAndGlyphs">-0.40</text><text class="d" x="385.5" y="1711.76" textLength="49.84" lengthAdjust="spacingAndGlyphs">[-0.95, 0.75]</text>
<text class="w" x="444.5" y="1701.66" textLength="17.81" lengthAdjust="spacingAndGlyphs">0.10</text><text class="w" x="444.5" y="1711.76" textLength="49.84" lengthAdjust="spacingAndGlyphs">[-0.86, 0.90]</text>
<text class="d" x="503.5" y="1701.66" textLength="20.7" lengthAdjust="spacingAndGlyphs">-0.90</text><text class="d" x="503.5" y="1711.76" textLength="52.73" lengthAdjust="spacingAndGlyphs">[-0.99, -0.09]</text>
<text class="w" x="562.5" y="1701.66" textLength="17.81" lengthAdjust="spacingAndGlyphs">0.00</text><text class="w" x="562.5" y="1711.76" textLength="49.84" lengthAdjust="spacingAndGlyphs">[-0.88, 0.88]</text>
<text class="w" x="621.5" y="1701.66" textLength="17.81" lengthAdjust="spacingAndGlyphs">0.30</text><text class="w" x="621.5" y="1711.76" textLength="49.84" lengthAdjust="spacingAndGlyphs">[-0.79, 0.93]</text>
<text class="w" x="680.5" y="1701.66" textLength="20.7" lengthAdjust="spacingAndGlyphs">-0.10</text><text class="w" x="680.5" y="1711.76" textLength="49.84" lengthAdjust="spacingAndGlyphs">[-0.90, 0.86]</text>
<text class="d" x="739.5" y="1701.66" textLength="20.7" lengthAdjust="spacingAndGlyphs">-0.30</text><text class="d" x="739.5" y="1711.76" textLength="49.84" lengthAdjust="spacingAndGlyphs">[-0.93, 0.79]</text>
<text class="d" x="798.5" y="1701.66" textLength="20.7" lengthAdjust="spacingAndGlyphs">-0.60</text><text class="d" x="798.5" y="1711.76" textLength="49.84" lengthAdjust="spacingAndGlyphs">[-0.97, 0.60]</text>
<text class="w" x="857.5" y="1701.66" textLength="20.7" lengthAdjust="spacingAndGlyphs">-0.10</text><text class="w" x="857.5" y="1711.76" textLength="49.84" lengthAdjust="spacingAndGlyphs">[-0.90, 0.86]</text>
<text class="d" x="916.5" y="1701.66" textLength="20.7" lengthAdjust="spacingAndGlyphs">-0.50</text><text class="d" x="916.5" y="1711.76" textLength="49.84" lengthAdjust="spacingAndGlyphs">[-0.96, 0.68]</text>
<text class="w" x="975.5" y="1701.66" textLength="20.7" lengthAdjust="spacingAndGlyphs">-0.10</text><text class="w" x="975.5" y="1711.76" textLength="49.84" lengthAdjust="spacingAndGlyphs">[-0.90, 0.86]</text>
<text class="d" x="90.5" y="1746.88" textLength="20.7" lengthAdjust="spacingAndGlyphs">-0.60</text><text class="d" x="90.5" y="1756.97" textLength="49.84" lengthAdjust="spacingAndGlyphs">[-0.95, 0.41]</text>
<text class="d" x="149.5" y="1746.88" textLength="20.7" lengthAdjust="spacingAndGlyphs">-0.54</text><text class="d" x="149.5" y="1756.97" textLength="49.84" lengthAdjust="spacingAndGlyphs">[-0.94, 0.48]</text>
<text class="d" x="208.5" y="1746.88" textLength="20.7" lengthAdjust="spacingAndGlyphs">-0.49</text><text class="d" x="208.5" y="1756.97" textLength="49.84" lengthAdjust="spacingAndGlyphs">[-0.93, 0.54]</text>
<text class="d" x="267.5" y="1746.88" textLength="20.7" lengthAdjust="spacingAndGlyphs">-0.83</text><text class="d" x="267.5" y="1756.97" textLength="52.73" lengthAdjust="spacingAndGlyphs">[-0.98, -0.05]</text>
<text class="w" x="326.5" y="1746.88" textLength="20.7" lengthAdjust="spacingAndGlyphs">-0.03</text><text class="w" x="326.5" y="1756.97" textLength="49.84" lengthAdjust="spacingAndGlyphs">[-0.82, 0.80]</text>
<text class="d" x="385.5" y="1746.88" textLength="20.7" lengthAdjust="spacingAndGlyphs">-0.37</text><text class="d" x="385.5" y="1756.97" textLength="49.84" lengthAdjust="spacingAndGlyphs">[-0.91, 0.63]</text>
<text class="w" x="444.5" y="1746.88" textLength="17.81" lengthAdjust="spacingAndGlyphs">0.09</text><text class="w" x="444.5" y="1756.97" textLength="49.84" lengthAdjust="spacingAndGlyphs">[-0.78, 0.84]</text>
<text class="d" x="503.5" y="1746.88" textLength="20.7" lengthAdjust="spacingAndGlyphs">-0.94</text><text class="d" x="503.5" y="1756.97" textLength="52.73" lengthAdjust="spacingAndGlyphs">[-0.99, -0.56]</text>
<text class="d" x="562.5" y="1746.88" textLength="20.7" lengthAdjust="spacingAndGlyphs">-0.26</text><text class="d" x="562.5" y="1756.97" textLength="49.84" lengthAdjust="spacingAndGlyphs">[-0.88, 0.70]</text>
<text class="w" x="621.5" y="1746.88" textLength="20.7" lengthAdjust="spacingAndGlyphs">-0.09</text><text class="w" x="621.5" y="1756.97" textLength="49.84" lengthAdjust="spacingAndGlyphs">[-0.84, 0.78]</text>
<text class="w" x="680.5" y="1746.88" textLength="17.81" lengthAdjust="spacingAndGlyphs">0.03</text><text class="w" x="680.5" y="1756.97" textLength="49.84" lengthAdjust="spacingAndGlyphs">[-0.80, 0.82]</text>
<text class="d" x="739.5" y="1746.88" textLength="20.7" lengthAdjust="spacingAndGlyphs">-0.26</text><text class="d" x="739.5" y="1756.97" textLength="49.84" lengthAdjust="spacingAndGlyphs">[-0.88, 0.70]</text>
<text class="w" x="798.5" y="1746.88" textLength="20.7" lengthAdjust="spacingAndGlyphs">-0.03</text><text class="w" x="798.5" y="1756.97" textLength="49.84" lengthAdjust="spacingAndGlyphs">[-0.82, 0.80]</text>
<text class="d" x="857.5" y="1746.88" textLength="20.7" lengthAdjust="spacingAndGlyphs">-0.37</text><text class="d" x="857.5" y="1756.97" textLength="49.84" lengthAdjust="spacingAndGlyphs">[-0.91, 0.63]</text>
<text class="d" x="916.5" y="1746.88" textLength="20.7" lengthAdjust="spacingAndGlyphs">-0.89</text><text class="d" x="916.5" y="1756.97" textLength="52.73" lengthAdjust="spacingAndGlyphs">[-0.99, -0.26]</text>
<text class="w" x="975.5" y="1746.88" textLength="20.7" lengthAdjust="spacingAndGlyphs">-0.09</text><text class="w" x="975.5" y="1756.97" textLength="49.84" lengthAdjust="spacingAndGlyphs">[-0.84, 0.78]</text>
<text class="w" x="90.5" y="1792.09" textLength="20.7" lengthAdjust="spacingAndGlyphs">-0.09</text><text class="w" x="90.5" y="1802.19" textLength="49.84" lengthAdjust="spacingAndGlyphs">[-0.84, 0.78]</text>
<text class="w" x="149.5" y="1792.09" textLength="17.81" lengthAdjust="spacingAndGlyphs">0.26</text><text class="w" x="149.5" y="1802.19" textLength="49.84" lengthAdjust="spacingAndGlyphs">[-0.70, 0.88]</text>
<text class="w" x="208.5" y="1792.09" textLength="17.81" lengthAdjust="spacingAndGlyphs">0.09</text><text class="w" x="208.5" y="1802.19" textLength="49.84" lengthAdjust="spacingAndGlyphs">[-0.78, 0.84]</text>
<text class="d" x="267.5" y="1792.09" textLength="20.7" lengthAdjust="spacingAndGlyphs">-0.49</text><text class="d" x="267.5" y="1802.19" textLength="49.84" lengthAdjust="spacingAndGlyphs">[-0.93, 0.54]</text>
<text class="d" x="326.5" y="1792.09" textLength="20.7" lengthAdjust="spacingAndGlyphs">-0.26</text><text class="d" x="326.5" y="1802.19" textLength="49.84" lengthAdjust="spacingAndGlyphs">[-0.88, 0.70]</text>
<text class="w" x="385.5" y="1792.09" textLength="17.81" lengthAdjust="spacingAndGlyphs">0.43</text><text class="w" x="385.5" y="1802.19" textLength="49.84" lengthAdjust="spacingAndGlyphs">[-0.59, 0.92]</text>
<text class="w" x="444.5" y="1792.09" textLength="17.81" lengthAdjust="spacingAndGlyphs">0.14</text><text class="w" x="444.5" y="1802.19" textLength="49.84" lengthAdjust="spacingAndGlyphs">[-0.76, 0.86]</text>
<text class="d" x="503.5" y="1792.09" textLength="20.7" lengthAdjust="spacingAndGlyphs">-0.54</text><text class="d" x="503.5" y="1802.19" textLength="49.84" lengthAdjust="spacingAndGlyphs">[-0.94, 0.48]</text>
<text class="w" x="562.5" y="1792.09" textLength="20.7" lengthAdjust="spacingAndGlyphs">-0.09</text><text class="w" x="562.5" y="1802.19" textLength="49.84" lengthAdjust="spacingAndGlyphs">[-0.84, 0.78]</text>
<text class="d" x="621.5" y="1792.09" textLength="20.7" lengthAdjust="spacingAndGlyphs">-0.49</text><text class="d" x="621.5" y="1802.19" textLength="49.84" lengthAdjust="spacingAndGlyphs">[-0.93, 0.54]</text>
<text class="w" x="680.5" y="1792.09" textLength="17.81" lengthAdjust="spacingAndGlyphs">0.03</text><text class="w" x="680.5" y="1802.19" textLength="49.84" lengthAdjust="spacingAndGlyphs">[-0.80, 0.82]</text>
<text class="w" x="739.5" y="1792.09" textLength="20.7" lengthAdjust="spacingAndGlyphs">-0.14</text><text class="w" x="739.5" y="1802.19" textLength="49.84" lengthAdjust="spacingAndGlyphs">[-0.86, 0.76]</text>
<text class="w" x="798.5" y="1792.09" textLength="20.7" lengthAdjust="spacingAndGlyphs">-0.03</text><text class="w" x="798.5" y="1802.19" textLength="49.84" lengthAdjust="spacingAndGlyphs">[-0.82, 0.80]</text>
<text class="d" x="857.5" y="1792.09" textLength="20.7" lengthAdjust="spacingAndGlyphs">-0.26</text><text class="d" x="857.5" y="1802.19" textLength="49.84" lengthAdjust="spacingAndGlyphs">[-0.88, 0.70]</text>
<text class="d" x="916.5" y="1792.09" textLength="20.7" lengthAdjust="spacingAndGlyphs">-0.43</text><text class="d" x="916.5" y="1802.19" textLength="49.84" lengthAdjust="spacingAndGlyphs">[-0.92, 0.59]</text>
<text class="w" x="975.5" y="1792.09" textLength="20.7" lengthAdjust="spacingAndGlyphs">-0.14</text><text class="w" x="975.5" y="1802.19" textLength="49.84" lengthAdjust="spacingAndGlyphs">[-0.86, 0.76]</text>
</g>
<clipPath id="c2"><rect x="61" y="1546" width="944" height="271.3"/></clipPath>
<g clip-path="url(#c2)">
<rect x="61" y="1681.65" width="59" height="45.22" fill="none" stroke="#ff0000" stroke-width="2.2"/>
<rect x="474" y="1726.87" width="59" height="45.22" fill="none" stroke="#ff0000" stroke-width="2.2"/>
</g>
<path d="M57.5 1568.61H61M57.5 1613.83H61M57.5 1659.04H61M57.5 1704.26H61M57.5 1749.47H61M57.5 1794.69H61M90.8 1817.3V1820.8M149.8 1817.3V1820.8M208.8 1817.3V1820.8M267.8 1817.3V1820.8M326.8 1817.3V1820.8M385.8 1817.3V1820.8M444.8 1817.3V1820.8M503.8 1817.3V1820.8M562.8 1817.3V1820.8M621.8 1817.3V1820.8M680.8 1817.3V1820.8M739.8 1817.3V1820.8M798.8 1817.3V1820.8M857.8 1817.3V1820.8M916.8 1817.3V1820.8M975.8 1817.3V1820.8" stroke="#000" stroke-width="0.9" fill="none"/>
<g font-size="9.29" class="k" stroke-width="0">
<text x="54.5" y="1571.71" text-anchor="end" textLength="52.52" lengthAdjust="spacingAndGlyphs">U-Skewness</text>
<text x="54.5" y="1616.92" text-anchor="end" textLength="53.66" lengthAdjust="spacingAndGlyphs">M-Skewness</text>
<text x="54.5" y="1662.14" text-anchor="end" textLength="50.83" lengthAdjust="spacingAndGlyphs">L-Skewness</text>
<text x="54.5" y="1707.36" text-anchor="end" textLength="20.64" lengthAdjust="spacingAndGlyphs">U-E:I</text>
<text x="54.5" y="1752.57" text-anchor="end" textLength="21.79" lengthAdjust="spacingAndGlyphs">M-E:I</text>
<text x="54.5" y="1797.79" text-anchor="end" textLength="18.96" lengthAdjust="spacingAndGlyphs">L-E:I</text>
<text x="89" y="1830.3" text-anchor="end" transform="rotate(-45 89 1830.3)" textLength="73.73" lengthAdjust="spacingAndGlyphs">DhTrachea_norm</text>
<text x="148" y="1830.3" text-anchor="end" transform="rotate(-45 148 1830.3)" textLength="59.22" lengthAdjust="spacingAndGlyphs">DhRMB_norm</text>
<text x="207" y="1830.3" text-anchor="end" transform="rotate(-45 207 1830.3)" textLength="67.05" lengthAdjust="spacingAndGlyphs">DhTriRUL_norm</text>
<text x="266" y="1830.3" text-anchor="end" transform="rotate(-45 266 1830.3)" textLength="71.32" lengthAdjust="spacingAndGlyphs">DhBronint_norm</text>
<text x="325" y="1830.3" text-anchor="end" transform="rotate(-45 325 1830.3)" textLength="65.52" lengthAdjust="spacingAndGlyphs">DhTriRLL_norm</text>
<text x="384" y="1830.3" text-anchor="end" transform="rotate(-45 384 1830.3)" textLength="58.02" lengthAdjust="spacingAndGlyphs">DhLMB_norm</text>
<text x="443" y="1830.3" text-anchor="end" transform="rotate(-45 443 1830.3)" textLength="65.41" lengthAdjust="spacingAndGlyphs">DhTriLUL_norm</text>
<text x="502" y="1830.3" text-anchor="end" transform="rotate(-45 502 1830.3)" textLength="65.44" lengthAdjust="spacingAndGlyphs">DhTriLLB_norm</text>
<text x="561" y="1830.3" text-anchor="end" transform="rotate(-45 561 1830.3)" textLength="75.29" lengthAdjust="spacingAndGlyphs">WTTrachea_norm</text>
<text x="620" y="1830.3" text-anchor="end" transform="rotate(-45 620 1830.3)" textLength="60.94" lengthAdjust="spacingAndGlyphs">WTRMB_norm</text>
<text x="679" y="1830.3" text-anchor="end" transform="rotate(-45 679 1830.3)" textLength="68.61" lengthAdjust="spacingAndGlyphs">WTTriRUL_norm</text>
<text x="738" y="1830.3" text-anchor="end" transform="rotate(-45 738 1830.3)" textLength="73.04" lengthAdjust="spacingAndGlyphs">WTBronint_norm</text>
<text x="797" y="1830.3" text-anchor="end" transform="rotate(-45 797 1830.3)" textLength="67.08" lengthAdjust="spacingAndGlyphs">WTTriRLL_norm</text>
<text x="856" y="1830.3" text-anchor="end" transform="rotate(-45 856 1830.3)" textLength="59.73" lengthAdjust="spacingAndGlyphs">WTLMB_norm</text>
<text x="915" y="1830.3" text-anchor="end" transform="rotate(-45 915 1830.3)" textLength="66.97" lengthAdjust="spacingAndGlyphs">WTTriLUL_norm</text>
<text x="974" y="1830.3" text-anchor="end" transform="rotate(-45 974 1830.3)" textLength="67" lengthAdjust="spacingAndGlyphs">WTTriLLB_norm</text>
</g>
<text class="k" x="533" y="1540.9" font-size="13.41" text-anchor="middle" textLength="450.33" lengthAdjust="spacingAndGlyphs">Spearman Correlation: EIT-Hysteresis vs. Segmental airways structures</text>
<g>
<rect x="103" y="1949.5" width="91.25" height="77.35" fill="#4090c5"/>
<rect x="192.75" y="1949.5" width="91.25" height="77.35" fill="#bdd7ec"/>
<rect x="282.5" y="1949.5" width="91.25" height="77.35" fill="#dce9f6"/>
<rect x="372.25" y="1949.5" width="91.25" height="77.35" fill="#cee0f2"/>
<rect x="462" y="1949.5" width="91.25" height="77.35" fill="#6fb0d7"/>
<rect x="551.75" y="1949.5" width="91.25" height="77.35" fill="#a6cee4"/>
<rect x="641.5" y="1949.5" width="91.25" height="77.35" fill="#57a0ce"/>
<rect x="731.25" y="1949.5" width="91.25" height="77.35" fill="#4090c5"/>
<rect x="821" y="1949.5" width="91.25" height="77.35" fill="#4090c5"/>
<rect x="910.75" y="1949.5" width="89.75" height="77.35" fill="#cee0f2"/>
<rect x="103" y="2025.35" width="91.25" height="77.35" fill="#94c4df"/>
<rect x="192.75" y="2025.35" width="91.25" height="77.35" fill="#1f6eb3"/>
<rect x="282.5" y="2025.35" width="91.25" height="77.35" fill="#4a98c9"/>
<rect x="372.25" y="2025.35" width="91.25" height="77.35" fill="#bdd7ec"/>
<rect x="462" y="2025.35" width="91.25" height="77.35" fill="#1f6eb3"/>
<rect x="551.75" y="2025.35" width="91.25" height="77.35" fill="#d8e7f5"/>
<rect x="641.5" y="2025.35" width="91.25" height="77.35" fill="#0e59a2"/>
<rect x="731.25" y="2025.35" width="91.25" height="77.35" fill="#4a98c9"/>
<rect x="821" y="2025.35" width="91.25" height="77.35" fill="#94c4df"/>
<rect x="910.75" y="2025.35" width="89.75" height="77.35" fill="#0e59a2"/>
<rect x="103" y="2101.2" width="91.25" height="77.35" fill="#84bcdb"/>
<rect x="192.75" y="2101.2" width="91.25" height="77.35" fill="#3383be"/>
<rect x="282.5" y="2101.2" width="91.25" height="77.35" fill="#a3cce3"/>
<rect x="372.25" y="2101.2" width="91.25" height="77.35" fill="#d0e1f2"/>
<rect x="462" y="2101.2" width="91.25" height="77.35" fill="#f7fbff"/>
<rect x="551.75" y="2101.2" width="91.25" height="77.35" fill="#94c4df"/>
<rect x="641.5" y="2101.2" width="91.25" height="77.35" fill="#d8e7f5"/>
<rect x="731.25" y="2101.2" width="91.25" height="77.35" fill="#94c4df"/>
<rect x="821" y="2101.2" width="91.25" height="77.35" fill="#84bcdb"/>
<rect x="910.75" y="2101.2" width="89.75" height="77.35" fill="#84bcdb"/>
<rect x="103" y="2177.05" width="91.25" height="77.35" fill="#bdd7ec"/>
<rect x="192.75" y="2177.05" width="91.25" height="77.35" fill="#4090c5"/>
<rect x="282.5" y="2177.05" width="91.25" height="77.35" fill="#cee0f2"/>
<rect x="372.25" y="2177.05" width="91.25" height="77.35" fill="#cee0f2"/>
<rect x="462" y="2177.05" width="91.25" height="77.35" fill="#cee0f2"/>
<rect x="551.75" y="2177.05" width="91.25" height="77.35" fill="#57a0ce"/>
<rect x="641.5" y="2177.05" width="91.25" height="77.35" fill="#6fb0d7"/>
<rect x="731.25" y="2177.05" width="91.25" height="77.35" fill="#eaf2fb"/>
<rect x="821" y="2177.05" width="91.25" height="77.35" fill="#bdd7ec"/>
<rect x="910.75" y="2177.05" width="89.75" height="77.35" fill="#2e7ebc"/>
<rect x="103" y="2252.9" width="91.25" height="77.35" fill="#a3cce3"/>
<rect x="192.75" y="2252.9" width="91.25" height="77.35" fill="#2979b9"/>
<rect x="282.5" y="2252.9" width="91.25" height="77.35" fill="#c8dcf0"/>
<rect x="372.25" y="2252.9" width="91.25" height="77.35" fill="#f7fbff"/>
<rect x="462" y="2252.9" width="91.25" height="77.35" fill="#d0e1f2"/>
<rect x="551.75" y="2252.9" width="91.25" height="77.35" fill="#dfecf7"/>
<rect x="641.5" y="2252.9" width="91.25" height="77.35" fill="#84bcdb"/>
<rect x="731.25" y="2252.9" width="91.25" height="77.35" fill="#94c4df"/>
<rect x="821" y="2252.9" width="91.25" height="77.35" fill="#a3cce3"/>
<rect x="910.75" y="2252.9" width="89.75" height="77.35" fill="#57a0ce"/>
<rect x="103" y="2328.75" width="91.25" height="75.85" fill="#1f6eb3"/>
<rect x="192.75" y="2328.75" width="91.25" height="75.85" fill="#08306b"/>
<rect x="282.5" y="2328.75" width="91.25" height="75.85" fill="#64a9d3"/>
<rect x="372.25" y="2328.75" width="91.25" height="75.85" fill="#bdd7ec"/>
<rect x="462" y="2328.75" width="91.25" height="75.85" fill="#d8e7f5"/>
<rect x="551.75" y="2328.75" width="91.25" height="75.85" fill="#b0d2e7"/>
<rect x="641.5" y="2328.75" width="91.25" height="75.85" fill="#94c4df"/>
<rect x="731.25" y="2328.75" width="91.25" height="75.85" fill="#1764ab"/>
<rect x="821" y="2328.75" width="91.25" height="75.85" fill="#1f6eb3"/>
<rect x="910.75" y="2328.75" width="89.75" height="75.85" fill="#4a98c9"/>
</g>
<g font-size="13.78" text-anchor="middle" stroke-width="0.15">
<text class="w" x="147.88" y="1983.83" textLength="33.64" lengthAdjust="spacingAndGlyphs">-0.10</text><text class="w" x="147.88" y="2000.12" textLength="80.99" lengthAdjust="spacingAndGlyphs">[-0.90, 0.86]</text>
<text class="d" x="237.62" y="1983.83" textLength="33.64" lengthAdjust="spacingAndGlyphs">-0.60</text><text class="d" x="237.62" y="2000.12" textLength="80.99" lengthAdjust="spacingAndGlyphs">[-0.97, 0.60]</text>
<text class="d" x="327.38" y="1983.83" textLength="33.64" lengthAdjust="spacingAndGlyphs">-0.80</text><text class="d" x="327.38" y="2000.12" textLength="80.99" lengthAdjust="spacingAndGlyphs">[-0.99, 0.28]</text>
<text class="d" x="417.12" y="1983.83" textLength="33.64" lengthAdjust="spacingAndGlyphs">-0.70</text><text class="d" x="417.12" y="2000.12" textLength="80.99" lengthAdjust="spacingAndGlyphs">[-0.98, 0.48]</text>
<text class="w" x="506.88" y="1983.83" textLength="33.64" lengthAdjust="spacingAndGlyphs">-0.30</text><text class="w" x="506.88" y="2000.12" textLength="80.99" lengthAdjust="spacingAndGlyphs">[-0.93, 0.79]</text>
<text class="d" x="596.62" y="1983.83" textLength="33.64" lengthAdjust="spacingAndGlyphs">-0.50</text><text class="d" x="596.62" y="2000.12" textLength="80.99" lengthAdjust="spacingAndGlyphs">[-0.96, 0.68]</text>
<text class="w" x="686.38" y="1983.83" textLength="33.64" lengthAdjust="spacingAndGlyphs">-0.20</text><text class="w" x="686.38" y="2000.12" textLength="80.99" lengthAdjust="spacingAndGlyphs">[-0.92, 0.83]</text>
<text class="w" x="776.12" y="1983.83" textLength="33.64" lengthAdjust="spacingAndGlyphs">-0.10</text><text class="w" x="776.12" y="2000.12" textLength="80.99" lengthAdjust="spacingAndGlyphs">[-0.90, 0.86]</text>
<text class="w" x="865.88" y="1983.83" textLength="33.64" lengthAdjust="spacingAndGlyphs">-0.10</text><text class="w" x="865.88" y="2000.12" textLength="80.99" lengthAdjust="spacingAndGlyphs">[-0.90, 0.86]</text>
<text class="d" x="955.62" y="1983.83" textLength="33.64" lengthAdjust="spacingAndGlyphs">-0.70</text><text class="d" x="955.62" y="2000.12" textLength="80.99" lengthAdjust="spacingAndGlyphs">[-0.98, 0.48]</text>
<text class="d" x="147.88" y="2059.68" textLength="33.64" lengthAdjust="spacingAndGlyphs">-0.43</text><text class="d" x="147.88" y="2075.97" textLength="80.99" lengthAdjust="spacingAndGlyphs">[-0.92, 0.59]</text>
<text class="w" x="237.62" y="2059.68" textLength="28.95" lengthAdjust="spacingAndGlyphs">0.09</text><text class="w" x="237.62" y="2075.97" textLength="80.99" lengthAdjust="spacingAndGlyphs">[-0.78, 0.84]</text>
<text class="w" x="327.38" y="2059.68" textLength="33.64" lengthAdjust="spacingAndGlyphs">-0.14</text><text class="w" x="327.38" y="2075.97" textLength="80.99" lengthAdjust="spacingAndGlyphs">[-0.86, 0.76]</text>
<text class="d" x="417.12" y="2059.68" textLength="33.64" lengthAdjust="spacingAndGlyphs">-0.60</text><text class="d" x="417.12" y="2075.97" textLength="80.99" lengthAdjust="spacingAndGlyphs">[-0.95, 0.41]</text>
<text class="w" x="506.88" y="2059.68" textLength="28.95" lengthAdjust="spacingAndGlyphs">0.09</text><text class="w" x="506.88" y="2075.97" textLength="80.99" lengthAdjust="spacingAndGlyphs">[-0.78, 0.84]</text>
<text class="d" x="596.62" y="2059.68" textLength="33.64" lengthAdjust="spacingAndGlyphs">-0.77</text><text class="d" x="596.62" y="2075.97" textLength="80.99" lengthAdjust="spacingAndGlyphs">[-0.97, 0.11]</text>
<text class="w" x="686.38" y="2059.68" textLength="28.95" lengthAdjust="spacingAndGlyphs">0.20</text><text class="w" x="686.38" y="2075.97" textLength="80.99" lengthAdjust="spacingAndGlyphs">[-0.73, 0.87]</text>
<text class="w" x="776.12" y="2059.68" textLength="33.64" lengthAdjust="spacingAndGlyphs">-0.14</text><text class="w" x="776.12" y="2075.97" textLength="80.99" lengthAdjust="spacingAndGlyphs">[-0.86, 0.76]</text>
<text class="d" x="865.88" y="2059.68" textLength="33.64" lengthAdjust="spacingAndGlyphs">-0.43</text><text class="d" x="865.88" y="2075.97" textLength="80.99" lengthAdjust="spacingAndGlyphs">[-0.92, 0.59]</text>
<text class="w" x="955.62" y="2059.68" textLength="28.95" lengthAdjust="spacingAndGlyphs">0.20</text><text class="w" x="955.62" y="2075.97" textLength="80.99" lengthAdjust="spacingAndGlyphs">[-0.73, 0.87]</text>
<text class="d" x="147.88" y="2135.53" textLength="33.64" lengthAdjust="spacingAndGlyphs">-0.37</text><text class="d" x="147.88" y="2151.82" textLength="80.99" lengthAdjust="spacingAndGlyphs">[-0.91, 0.63]</text>
<text class="w" x="237.62" y="2135.53" textLength="33.64" lengthAdjust="spacingAndGlyphs">-0.03</text><text class="w" x="237.62" y="2151.82" textLength="80.99" lengthAdjust="spacingAndGlyphs">[-0.82, 0.80]</text>
<text class="d" x="327.38" y="2135.53" textLength="33.64" lengthAdjust="spacingAndGlyphs">-0.49</text><text class="d" x="327.38" y="2151.82" textLength="80.99" lengthAdjust="spacingAndGlyphs">[-0.93, 0.54]</text>
<text class="d" x="417.12" y="2135.53" textLength="33.64" lengthAdjust="spacingAndGlyphs">-0.71</text><text class="d" x="417.12" y="2151.82" textLength="80.99" lengthAdjust="spacingAndGlyphs">[-0.97, 0.23]</text>
<text class="d" x="506.88" y="2135.53" textLength="33.64" lengthAdjust="spacingAndGlyphs">-1.00</text><text class="d" x="506.88" y="2151.82" textLength="85.68" lengthAdjust="spacingAndGlyphs">[-1.00, -1.00]</text>
<text class="d" x="596.62" y="2135.53" textLength="33.64" lengthAdjust="spacingAndGlyphs">-0.43</text><text class="d" x="596.62" y="2151.82" textLength="80.99" lengthAdjust="spacingAndGlyphs">[-0.92, 0.59]</text>
<text class="d" x="686.38" y="2135.53" textLength="33.64" lengthAdjust="spacingAndGlyphs">-0.77</text><text class="d" x="686.38" y="2151.82" textLength="80.99" lengthAdjust="spacingAndGlyphs">[-0.97, 0.11]</text>
<text class="d" x="776.12" y="2135.53" textLength="33.64" lengthAdjust="spacingAndGlyphs">-0.43</text><text class="d" x="776.12" y="2151.82" textLength="80.99" lengthAdjust="spacingAndGlyphs">[-0.92, 0.59]</text>
<text class="d" x="865.88" y="2135.53" textLength="33.64" lengthAdjust="spacingAndGlyphs">-0.37</text><text class="d" x="865.88" y="2151.82" textLength="80.99" lengthAdjust="spacingAndGlyphs">[-0.91, 0.63]</text>
<text class="d" x="955.62" y="2135.53" textLength="33.64" lengthAdjust="spacingAndGlyphs">-0.37</text><text class="d" x="955.62" y="2151.82" textLength="80.99" lengthAdjust="spacingAndGlyphs">[-0.91, 0.63]</text>
<text class="d" x="147.88" y="2211.38" textLength="33.64" lengthAdjust="spacingAndGlyphs">-0.60</text><text class="d" x="147.88" y="2227.67" textLength="80.99" lengthAdjust="spacingAndGlyphs">[-0.97, 0.60]</text>
<text class="w" x="237.62" y="2211.38" textLength="33.64" lengthAdjust="spacingAndGlyphs">-0.10</text><text class="w" x="237.62" y="2227.67" textLength="80.99" lengthAdjust="spacingAndGlyphs">[-0.90, 0.86]</text>
<text class="d" x="327.38" y="2211.38" textLength="33.64" lengthAdjust="spacingAndGlyphs">-0.70</text><text class="d" x="327.38" y="2227.67" textLength="80.99" lengthAdjust="spacingAndGlyphs">[-0.98, 0.48]</text>
<text class="d" x="417.12" y="2211.38" textLength="33.64" lengthAdjust="spacingAndGlyphs">-0.70</text><text class="d" x="417.12" y="2227.67" textLength="80.99" lengthAdjust="spacingAndGlyphs">[-0.98, 0.48]</text>
<text class="d" x="506.88" y="2211.38" textLength="33.64" lengthAdjust="spacingAndGlyphs">-0.70</text><text class="d" x="506.88" y="2227.67" textLength="80.99" lengthAdjust="spacingAndGlyphs">[-0.98, 0.48]</text>
<text class="w" x="596.62" y="2211.38" textLength="33.64" lengthAdjust="spacingAndGlyphs">-0.20</text><text class="w" x="596.62" y="2227.67" textLength="80.99" lengthAdjust="spacingAndGlyphs">[-0.92, 0.83]</text>
<text class="w" x="686.38" y="2211.38" textLength="33.64" lengthAdjust="spacingAndGlyphs">-0.30</text><text class="w" x="686.38" y="2227.67" textLength="80.99" lengthAdjust="spacingAndGlyphs">[-0.93, 0.79]</text>
<text class="d" x="776.12" y="2211.38" textLength="33.64" lengthAdjust="spacingAndGlyphs">-0.90</text><text class="d" x="776.12" y="2227.67" textLength="85.68" lengthAdjust="spacingAndGlyphs">[-0.99, -0.09]</text>
<text class="d" x="865.88" y="2211.38" textLength="33.64" lengthAdjust="spacingAndGlyphs">-0.60</text><text class="d" x="865.88" y="2227.67" textLength="80.99" lengthAdjust="spacingAndGlyphs">[-0.97, 0.60]</text>
<text class="w" x="955.62" y="2211.38" textLength="28.95" lengthAdjust="spacingAndGlyphs">0.00</text><text class="w" x="955.62" y="2227.67" textLength="80.99" lengthAdjust="spacingAndGlyphs">[-0.88, 0.88]</text>
<text class="d" x="147.88" y="2287.22" textLength="33.64" lengthAdjust="spacingAndGlyphs">-0.49</text><text class="d" x="147.88" y="2303.52" textLength="80.99" lengthAdjust="spacingAndGlyphs">[-0.93, 0.54]</text>
<text class="w" x="237.62" y="2287.22" textLength="28.95" lengthAdjust="spacingAndGlyphs">0.03</text><text class="w" x="237.62" y="2303.52" textLength="80.99" lengthAdjust="spacingAndGlyphs">[-0.80, 0.82]</text>
<text class="d" x="327.38" y="2287.22" textLength="33.64" lengthAdjust="spacingAndGlyphs">-0.66</text><text class="d" x="327.38" y="2303.52" textLength="80.99" lengthAdjust="spacingAndGlyphs">[-0.96, 0.33]</text>
<text class="d" x="417.12" y="2287.22" textLength="33.64" lengthAdjust="spacingAndGlyphs">-1.00</text><text class="d" x="417.12" y="2303.52" textLength="85.68" lengthAdjust="spacingAndGlyphs">[-1.00, -1.00]</text>
<text class="d" x="506.88" y="2287.22" textLength="33.64" lengthAdjust="spacingAndGlyphs">-0.71</text><text class="d" x="506.88" y="2303.52" textLength="80.99" lengthAdjust="spacingAndGlyphs">[-0.97, 0.23]</text>
<text class="d" x="596.62" y="2287.22" textLength="33.64" lengthAdjust="spacingAndGlyphs">-0.83</text><text class="d" x="596.62" y="2303.52" textLength="85.68" lengthAdjust="spacingAndGlyphs">[-0.98, -0.05]</text>
<text class="d" x="686.38" y="2287.22" textLength="33.64" lengthAdjust="spacingAndGlyphs">-0.37</text><text class="d" x="686.38" y="2303.52" textLength="80.99" lengthAdjust="spacingAndGlyphs">[-0.91, 0.63]</text>
<text class="d" x="776.12" y="2287.22" textLength="33.64" lengthAdjust="spacingAndGlyphs">-0.43</text><text class="d" x="776.12" y="2303.52" textLength="80.99" lengthAdjust="spacingAndGlyphs">[-0.92, 0.59]</text>
<text class="d" x="865.88" y="2287.22" textLength="33.64" lengthAdjust="spacingAndGlyphs">-0.49</text><text class="d" x="865.88" y="2303.52" textLength="80.99" lengthAdjust="spacingAndGlyphs">[-0.93, 0.54]</text>
<text class="w" x="955.62" y="2287.22" textLength="33.64" lengthAdjust="spacingAndGlyphs">-0.20</text><text class="w" x="955.62" y="2303.52" textLength="80.99" lengthAdjust="spacingAndGlyphs">[-0.87, 0.73]</text>
<text class="w" x="147.88" y="2363.07" textLength="28.95" lengthAdjust="spacingAndGlyphs">0.09</text><text class="w" x="147.88" y="2379.37" textLength="80.99" lengthAdjust="spacingAndGlyphs">[-0.78, 0.84]</text>
<text class="w" x="237.62" y="2363.07" textLength="28.95" lengthAdjust="spacingAndGlyphs">0.43</text><text class="w" x="237.62" y="2379.37" textLength="80.99" lengthAdjust="spacingAndGlyphs">[-0.59, 0.92]</text>
<text class="w" x="327.38" y="2363.07" textLength="33.64" lengthAdjust="spacingAndGlyphs">-0.26</text><text class="w" x="327.38" y="2379.37" textLength="80.99" lengthAdjust="spacingAndGlyphs">[-0.88, 0.70]</text>
<text class="d" x="417.12" y="2363.07" textLength="33.64" lengthAdjust="spacingAndGlyphs">-0.60</text><text class="d" x="417.12" y="2379.37" textLength="80.99" lengthAdjust="spacingAndGlyphs">[-0.95, 0.41]</text>
<text class="d" x="506.88" y="2363.07" textLength="33.64" lengthAdjust="spacingAndGlyphs">-0.77</text><text class="d" x="506.88" y="2379.37" textLength="80.99" lengthAdjust="spacingAndGlyphs">[-0.97, 0.11]</text>
<text class="d" x="596.62" y="2363.07" textLength="33.64" lengthAdjust="spacingAndGlyphs">-0.54</text><text class="d" x="596.62" y="2379.37" textLength="80.99" lengthAdjust="spacingAndGlyphs">[-0.94, 0.48]</text>
<text class="d" x="686.38" y="2363.07" textLength="33.64" lengthAdjust="spacingAndGlyphs">-0.43</text><text class="d" x="686.38" y="2379.37" textLength="80.99" lengthAdjust="spacingAndGlyphs">[-0.92, 0.59]</text>
<text class="w" x="776.12" y="2363.07" textLength="28.95" lengthAdjust="spacingAndGlyphs">0.14</text><text class="w" x="776.12" y="2379.37" textLength="80.99" lengthAdjust="spacingAndGlyphs">[-0.76, 0.86]</text>
<text class="w" x="865.88" y="2363.07" textLength="28.95" lengthAdjust="spacingAndGlyphs">0.09</text><text class="w" x="865.88" y="2379.37" textLength="80.99" lengthAdjust="spacingAndGlyphs">[-0.78, 0.84]</text>
<text class="w" x="955.62" y="2363.07" textLength="33.64" lengthAdjust="spacingAndGlyphs">-0.14</text><text class="w" x="955.62" y="2379.37" textLength="80.99" lengthAdjust="spacingAndGlyphs">[-0.86, 0.76]</text>
</g>
<clipPath id="c3"><rect x="103" y="1949.5" width="897.5" height="455.1"/></clipPath>
<g clip-path="url(#c3)">
<rect x="462" y="2101.2" width="89.75" height="75.85" fill="none" stroke="#ff0000" stroke-width="3.2"/>
<rect x="372.25" y="2252.9" width="89.75" height="75.85" fill="none" stroke="#ff0000" stroke-width="3.2"/>
</g>
<path d="M97.4 1988.62H103M97.4 2064.47H103M97.4 2140.32H103M97.4 2216.17H103M97.4 2292.02H103M97.4 2367.87H103M149.18 2404.6V2410.2M238.93 2404.6V2410.2M328.68 2404.6V2410.2M418.43 2404.6V2410.2M508.18 2404.6V2410.2M597.92 2404.6V2410.2M687.67 2404.6V2410.2M777.42 2404.6V2410.2M867.17 2404.6V2410.2M956.92 2404.6V2410.2" stroke="#000" stroke-width="1.3" fill="none"/>
<g font-size="15.05" class="k" stroke-width="0.15">
<text x="92.2" y="1991.62" text-anchor="end" textLength="85.13" lengthAdjust="spacingAndGlyphs">U-Skewness</text>
<text x="92.2" y="2067.47" text-anchor="end" textLength="86.99" lengthAdjust="spacingAndGlyphs">M-Skewness</text>
<text x="92.2" y="2143.32" text-anchor="end" textLength="82.4" lengthAdjust="spacingAndGlyphs">L-Skewness</text>
<text x="92.2" y="2219.17" text-anchor="end" textLength="33.46" lengthAdjust="spacingAndGlyphs">U-E:I</text>
<text x="92.2" y="2295.02" text-anchor="end" textLength="35.32" lengthAdjust="spacingAndGlyphs">M-E:I</text>
<text x="92.2" y="2370.87" text-anchor="end" textLength="30.73" lengthAdjust="spacingAndGlyphs">L-E:I</text>
<text x="144.68" y="2425.3" text-anchor="end" transform="rotate(-45 144.68 2425.3)" textLength="99.71" lengthAdjust="spacingAndGlyphs">DhsRUL_norm</text>
<text x="234.43" y="2425.3" text-anchor="end" transform="rotate(-45 234.43 2425.3)" textLength="101.57" lengthAdjust="spacingAndGlyphs">DhsRML_norm</text>
<text x="324.18" y="2425.3" text-anchor="end" transform="rotate(-45 324.18 2425.3)" textLength="97.23" lengthAdjust="spacingAndGlyphs">DhsRLL_norm</text>
<text x="413.93" y="2425.3" text-anchor="end" transform="rotate(-45 413.93 2425.3)" textLength="97.05" lengthAdjust="spacingAndGlyphs">DhsLUL_norm</text>
<text x="503.68" y="2425.3" text-anchor="end" transform="rotate(-45 503.68 2425.3)" textLength="95.27" lengthAdjust="spacingAndGlyphs">DhsLLL_norm</text>
<text x="593.42" y="2425.3" text-anchor="end" transform="rotate(-45 593.42 2425.3)" textLength="100.14" lengthAdjust="spacingAndGlyphs">WTsRUL_norm</text>
<text x="683.17" y="2425.3" text-anchor="end" transform="rotate(-45 683.17 2425.3)" textLength="102" lengthAdjust="spacingAndGlyphs">WTsRML_norm</text>
<text x="772.92" y="2425.3" text-anchor="end" transform="rotate(-45 772.92 2425.3)" textLength="97.66" lengthAdjust="spacingAndGlyphs">WTsRLL_norm</text>
<text x="862.67" y="2425.3" text-anchor="end" transform="rotate(-45 862.67 2425.3)" textLength="97.48" lengthAdjust="spacingAndGlyphs">WTsLUL_norm</text>
<text x="952.42" y="2425.3" text-anchor="end" transform="rotate(-45 952.42 2425.3)" textLength="95.7" lengthAdjust="spacingAndGlyphs">WTsLLL_norm</text>
</g>
<text class="k" x="552" y="1940.8" font-size="21.76" text-anchor="middle" textLength="744.54" lengthAdjust="spacingAndGlyphs">Spearman Correlation: EIT-Hysteresis vs. Subgrouped airways structures</text>
</svg>
</body></html>
